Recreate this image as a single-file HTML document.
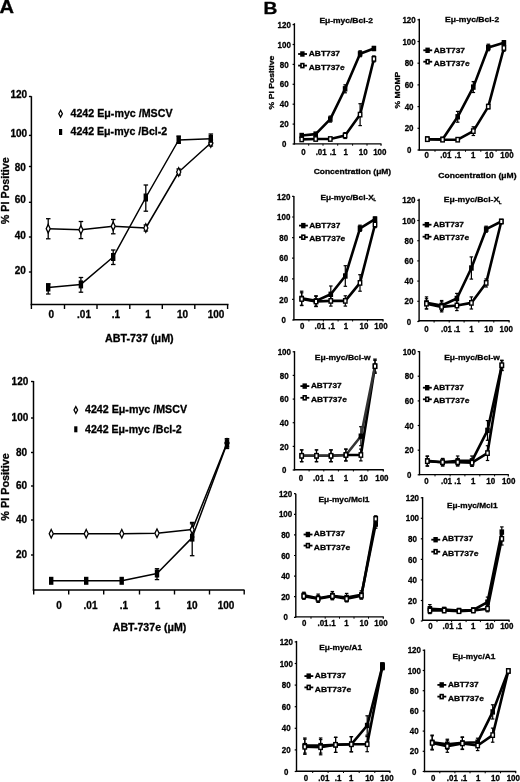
<!DOCTYPE html>
<html><head><meta charset="utf-8"><style>
html,body{margin:0;padding:0;background:#fff;width:520px;height:782px;overflow:hidden}
svg{display:block;will-change:transform}
text{font-family:"Liberation Sans",sans-serif;font-weight:bold;fill:#000;stroke:#000;stroke-width:0.3px}
</style></head><body>
<svg width="520" height="782" viewBox="0 0 520 782">
<rect width="520" height="782" fill="#fff"/>
<text transform="translate(-0.6,12.9) scale(1.13,1)" font-size="17.8">A</text>
<text transform="translate(263.5,13.8) scale(1.2,1)" font-size="16">B</text>
<line x1="31.4" y1="96.2" x2="31.4" y2="305.2" stroke="#000" stroke-width="1.5"/>
<line x1="30.7" y1="304.5" x2="228.5" y2="304.5" stroke="#000" stroke-width="1.5"/>
<line x1="31.4" y1="304.5" x2="31.4" y2="309.0" stroke="#000" stroke-width="1.4"/>
<line x1="64.5" y1="304.5" x2="64.5" y2="309.0" stroke="#000" stroke-width="1.4"/>
<line x1="97.0" y1="304.5" x2="97.0" y2="309.0" stroke="#000" stroke-width="1.4"/>
<line x1="129.8" y1="304.5" x2="129.8" y2="309.0" stroke="#000" stroke-width="1.4"/>
<line x1="162.3" y1="304.5" x2="162.3" y2="309.0" stroke="#000" stroke-width="1.4"/>
<line x1="194.8" y1="304.5" x2="194.8" y2="309.0" stroke="#000" stroke-width="1.4"/>
<line x1="227.6" y1="304.5" x2="227.6" y2="309.0" stroke="#000" stroke-width="1.4"/>
<line x1="28.9" y1="96.5" x2="31.4" y2="96.5" stroke="#000" stroke-width="1.4"/>
<line x1="28.9" y1="135.4" x2="31.4" y2="135.4" stroke="#000" stroke-width="1.4"/>
<line x1="28.9" y1="166.5" x2="31.4" y2="166.5" stroke="#000" stroke-width="1.4"/>
<line x1="28.9" y1="202.3" x2="31.4" y2="202.3" stroke="#000" stroke-width="1.4"/>
<line x1="28.9" y1="237.0" x2="31.4" y2="237.0" stroke="#000" stroke-width="1.4"/>
<line x1="28.9" y1="272.0" x2="31.4" y2="272.0" stroke="#000" stroke-width="1.4"/>
<text x="27.2" y="98.3" font-size="10" text-anchor="end">120</text>
<text x="27.2" y="136.5" font-size="10" text-anchor="end">100</text>
<text x="25.8" y="170.5" font-size="10" text-anchor="end">80</text>
<text x="25.8" y="203.2" font-size="10" text-anchor="end">60</text>
<text x="25.8" y="239.2" font-size="10" text-anchor="end">40</text>
<text x="25.8" y="274.2" font-size="10" text-anchor="end">20</text>
<text x="51.2" y="318.3" font-size="10" text-anchor="middle">0</text>
<text x="84.0" y="318.3" font-size="10" text-anchor="middle">.01</text>
<text x="116.0" y="318.3" font-size="10" text-anchor="middle">.1</text>
<text x="148.0" y="318.3" font-size="10" text-anchor="middle">1</text>
<text x="182.5" y="318.3" font-size="10" text-anchor="middle">10</text>
<text x="216.0" y="318.3" font-size="10" text-anchor="middle">100</text>
<polyline points="48.2,228.7 80.9,229.8 113.2,226.2 145.8,228.0 178.7,172.0 210.8,143.0" fill="none" stroke="#000" stroke-width="1.5" stroke-linejoin="round"/>
<polyline points="48.2,287.5 80.9,284.4 113.2,257.0 145.8,197.5 178.7,140.0 210.8,138.8" fill="none" stroke="#000" stroke-width="1.5" stroke-linejoin="round"/>
<line x1="48.2" y1="218.7" x2="48.2" y2="238.8" stroke="#000" stroke-width="1.3"/>
<line x1="46.0" y1="218.7" x2="50.5" y2="218.7" stroke="#000" stroke-width="1.3"/>
<line x1="46.0" y1="238.8" x2="50.5" y2="238.8" stroke="#000" stroke-width="1.3"/>
<line x1="80.9" y1="221.5" x2="80.9" y2="238.6" stroke="#000" stroke-width="1.3"/>
<line x1="78.7" y1="221.5" x2="83.2" y2="221.5" stroke="#000" stroke-width="1.3"/>
<line x1="78.7" y1="238.6" x2="83.2" y2="238.6" stroke="#000" stroke-width="1.3"/>
<line x1="113.2" y1="219.5" x2="113.2" y2="233.8" stroke="#000" stroke-width="1.3"/>
<line x1="111.0" y1="219.5" x2="115.5" y2="219.5" stroke="#000" stroke-width="1.3"/>
<line x1="111.0" y1="233.8" x2="115.5" y2="233.8" stroke="#000" stroke-width="1.3"/>
<line x1="145.8" y1="225.0" x2="145.8" y2="231.0" stroke="#000" stroke-width="1.3"/>
<line x1="143.6" y1="225.0" x2="148.1" y2="225.0" stroke="#000" stroke-width="1.3"/>
<line x1="143.6" y1="231.0" x2="148.1" y2="231.0" stroke="#000" stroke-width="1.3"/>
<line x1="178.7" y1="169.0" x2="178.7" y2="175.0" stroke="#000" stroke-width="1.3"/>
<line x1="176.4" y1="169.0" x2="180.9" y2="169.0" stroke="#000" stroke-width="1.3"/>
<line x1="176.4" y1="175.0" x2="180.9" y2="175.0" stroke="#000" stroke-width="1.3"/>
<line x1="210.8" y1="140.0" x2="210.8" y2="146.0" stroke="#000" stroke-width="1.3"/>
<line x1="208.6" y1="140.0" x2="213.1" y2="140.0" stroke="#000" stroke-width="1.3"/>
<line x1="208.6" y1="146.0" x2="213.1" y2="146.0" stroke="#000" stroke-width="1.3"/>
<line x1="48.2" y1="283.8" x2="48.2" y2="294.0" stroke="#000" stroke-width="1.3"/>
<line x1="46.0" y1="283.8" x2="50.5" y2="283.8" stroke="#000" stroke-width="1.3"/>
<line x1="46.0" y1="294.0" x2="50.5" y2="294.0" stroke="#000" stroke-width="1.3"/>
<line x1="80.9" y1="277.5" x2="80.9" y2="292.2" stroke="#000" stroke-width="1.3"/>
<line x1="78.7" y1="277.5" x2="83.2" y2="277.5" stroke="#000" stroke-width="1.3"/>
<line x1="78.7" y1="292.2" x2="83.2" y2="292.2" stroke="#000" stroke-width="1.3"/>
<line x1="113.2" y1="250.0" x2="113.2" y2="264.5" stroke="#000" stroke-width="1.3"/>
<line x1="111.0" y1="250.0" x2="115.5" y2="250.0" stroke="#000" stroke-width="1.3"/>
<line x1="111.0" y1="264.5" x2="115.5" y2="264.5" stroke="#000" stroke-width="1.3"/>
<line x1="145.8" y1="185.0" x2="145.8" y2="211.2" stroke="#000" stroke-width="1.3"/>
<line x1="143.6" y1="185.0" x2="148.1" y2="185.0" stroke="#000" stroke-width="1.3"/>
<line x1="143.6" y1="211.2" x2="148.1" y2="211.2" stroke="#000" stroke-width="1.3"/>
<line x1="178.7" y1="136.0" x2="178.7" y2="143.0" stroke="#000" stroke-width="1.3"/>
<line x1="176.4" y1="136.0" x2="180.9" y2="136.0" stroke="#000" stroke-width="1.3"/>
<line x1="176.4" y1="143.0" x2="180.9" y2="143.0" stroke="#000" stroke-width="1.3"/>
<line x1="210.8" y1="134.0" x2="210.8" y2="144.0" stroke="#000" stroke-width="1.3"/>
<line x1="208.6" y1="134.0" x2="213.1" y2="134.0" stroke="#000" stroke-width="1.3"/>
<line x1="208.6" y1="144.0" x2="213.1" y2="144.0" stroke="#000" stroke-width="1.3"/>
<polygon points="48.2,224.4 50.2,228.7 48.2,232.9 46.2,228.7" fill="#fff" stroke="#000" stroke-width="1.3"/>
<polygon points="80.9,225.6 83.0,229.8 80.9,234.1 78.9,229.8" fill="#fff" stroke="#000" stroke-width="1.3"/>
<polygon points="113.2,221.9 115.2,226.2 113.2,230.4 111.2,226.2" fill="#fff" stroke="#000" stroke-width="1.3"/>
<polygon points="145.8,223.8 147.9,228.0 145.8,232.2 143.8,228.0" fill="#fff" stroke="#000" stroke-width="1.3"/>
<polygon points="178.7,167.8 180.8,172.0 178.7,176.2 176.6,172.0" fill="#fff" stroke="#000" stroke-width="1.3"/>
<polygon points="210.8,138.8 212.9,143.0 210.8,147.2 208.8,143.0" fill="#fff" stroke="#000" stroke-width="1.3"/>
<rect x="46.0" y="283.5" width="4.4" height="8.0" fill="#000" stroke="none" stroke-width="0"/>
<rect x="78.7" y="280.4" width="4.4" height="8.0" fill="#000" stroke="none" stroke-width="0"/>
<rect x="111.0" y="253.0" width="4.4" height="8.0" fill="#000" stroke="none" stroke-width="0"/>
<rect x="143.6" y="193.5" width="4.4" height="8.0" fill="#000" stroke="none" stroke-width="0"/>
<rect x="176.5" y="136.0" width="4.4" height="8.0" fill="#000" stroke="none" stroke-width="0"/>
<rect x="208.6" y="134.8" width="4.4" height="8.0" fill="#000" stroke="none" stroke-width="0"/>
<polygon points="60.6,110.3 62.4,113.7 60.6,117.1 58.8,113.7" fill="#fff" stroke="#000" stroke-width="1.3"/>
<rect x="59.0" y="129.0" width="3.2" height="6.0" fill="#000" stroke="none" stroke-width="0"/>
<text x="70.5" y="117.0" font-size="10.5" text-anchor="start" textLength="102.0" lengthAdjust="spacingAndGlyphs">4242 Eμ-myc /MSCV</text>
<text x="70.5" y="135.3" font-size="10.5" text-anchor="start" textLength="96.7" lengthAdjust="spacingAndGlyphs">4242 Eμ-myc /Bcl-2</text>
<text x="105.0" y="342.1" font-size="10.5" text-anchor="start" textLength="68.7" lengthAdjust="spacingAndGlyphs">ABT-737 (μM)</text>
<text transform="translate(9.3,190.7) rotate(-90)" font-size="11" text-anchor="middle" textLength="67" lengthAdjust="spacingAndGlyphs">% PI Positive</text>
<line x1="33.5" y1="381.0" x2="33.5" y2="590.7" stroke="#000" stroke-width="1.5"/>
<line x1="32.8" y1="590.0" x2="244.5" y2="590.0" stroke="#000" stroke-width="1.5"/>
<line x1="33.7" y1="590.0" x2="33.7" y2="594.5" stroke="#000" stroke-width="1.4"/>
<line x1="68.7" y1="590.0" x2="68.7" y2="594.5" stroke="#000" stroke-width="1.4"/>
<line x1="103.7" y1="590.0" x2="103.7" y2="594.5" stroke="#000" stroke-width="1.4"/>
<line x1="139.5" y1="590.0" x2="139.5" y2="594.5" stroke="#000" stroke-width="1.4"/>
<line x1="174.5" y1="590.0" x2="174.5" y2="594.5" stroke="#000" stroke-width="1.4"/>
<line x1="209.5" y1="590.0" x2="209.5" y2="594.5" stroke="#000" stroke-width="1.4"/>
<line x1="244.2" y1="590.0" x2="244.2" y2="594.5" stroke="#000" stroke-width="1.4"/>
<line x1="31.0" y1="381.5" x2="33.5" y2="381.5" stroke="#000" stroke-width="1.4"/>
<line x1="31.0" y1="418.0" x2="33.5" y2="418.0" stroke="#000" stroke-width="1.4"/>
<line x1="31.0" y1="452.5" x2="33.5" y2="452.5" stroke="#000" stroke-width="1.4"/>
<line x1="31.0" y1="486.0" x2="33.5" y2="486.0" stroke="#000" stroke-width="1.4"/>
<line x1="31.0" y1="520.0" x2="33.5" y2="520.0" stroke="#000" stroke-width="1.4"/>
<line x1="31.0" y1="555.0" x2="33.5" y2="555.0" stroke="#000" stroke-width="1.4"/>
<text x="28.3" y="384.5" font-size="10" text-anchor="end">120</text>
<text x="28.3" y="421.0" font-size="10" text-anchor="end">100</text>
<text x="27.1" y="455.5" font-size="10" text-anchor="end">80</text>
<text x="27.1" y="489.0" font-size="10" text-anchor="end">60</text>
<text x="27.1" y="523.0" font-size="10" text-anchor="end">40</text>
<text x="27.1" y="558.0" font-size="10" text-anchor="end">20</text>
<text x="59.0" y="608.5" font-size="10" text-anchor="middle">0</text>
<text x="90.5" y="608.5" font-size="10" text-anchor="middle">.01</text>
<text x="124.0" y="608.5" font-size="10" text-anchor="middle">.1</text>
<text x="157.5" y="608.5" font-size="10" text-anchor="middle">1</text>
<text x="192.0" y="608.5" font-size="10" text-anchor="middle">10</text>
<text x="226.0" y="608.5" font-size="10" text-anchor="middle">100</text>
<polyline points="51.2,533.8 86.2,533.8 121.8,533.8 157.0,533.3 192.2,529.6 227.0,443.0" fill="none" stroke="#000" stroke-width="1.5" stroke-linejoin="round"/>
<polyline points="51.2,580.8 86.2,580.8 121.8,580.8 157.0,573.5 192.2,537.6 227.0,443.5" fill="none" stroke="#000" stroke-width="1.5" stroke-linejoin="round"/>
<line x1="192.2" y1="522.4" x2="192.2" y2="537.0" stroke="#000" stroke-width="1.3"/>
<line x1="189.9" y1="522.4" x2="194.4" y2="522.4" stroke="#000" stroke-width="1.3"/>
<line x1="189.9" y1="537.0" x2="194.4" y2="537.0" stroke="#000" stroke-width="1.3"/>
<line x1="227.0" y1="439.0" x2="227.0" y2="447.0" stroke="#000" stroke-width="1.3"/>
<line x1="224.8" y1="439.0" x2="229.2" y2="439.0" stroke="#000" stroke-width="1.3"/>
<line x1="224.8" y1="447.0" x2="229.2" y2="447.0" stroke="#000" stroke-width="1.3"/>
<line x1="157.0" y1="568.7" x2="157.0" y2="579.6" stroke="#000" stroke-width="1.3"/>
<line x1="154.8" y1="568.7" x2="159.2" y2="568.7" stroke="#000" stroke-width="1.3"/>
<line x1="154.8" y1="579.6" x2="159.2" y2="579.6" stroke="#000" stroke-width="1.3"/>
<line x1="192.2" y1="523.8" x2="192.2" y2="555.7" stroke="#000" stroke-width="1.3"/>
<line x1="189.9" y1="523.8" x2="194.4" y2="523.8" stroke="#000" stroke-width="1.3"/>
<line x1="189.9" y1="555.7" x2="194.4" y2="555.7" stroke="#000" stroke-width="1.3"/>
<line x1="227.0" y1="438.7" x2="227.0" y2="448.5" stroke="#000" stroke-width="1.3"/>
<line x1="224.8" y1="438.7" x2="229.2" y2="438.7" stroke="#000" stroke-width="1.3"/>
<line x1="224.8" y1="448.5" x2="229.2" y2="448.5" stroke="#000" stroke-width="1.3"/>
<polygon points="51.2,529.5 53.3,533.8 51.2,538.0 49.2,533.8" fill="#fff" stroke="#000" stroke-width="1.3"/>
<polygon points="86.2,529.5 88.3,533.8 86.2,538.0 84.2,533.8" fill="#fff" stroke="#000" stroke-width="1.3"/>
<polygon points="121.8,529.5 123.8,533.8 121.8,538.0 119.7,533.8" fill="#fff" stroke="#000" stroke-width="1.3"/>
<polygon points="157.0,529.0 159.1,533.3 157.0,537.5 154.9,533.3" fill="#fff" stroke="#000" stroke-width="1.3"/>
<polygon points="192.2,525.4 194.2,529.6 192.2,533.9 190.1,529.6" fill="#fff" stroke="#000" stroke-width="1.3"/>
<polygon points="227.0,438.8 229.1,443.0 227.0,447.2 224.9,443.0" fill="#fff" stroke="#000" stroke-width="1.3"/>
<rect x="49.0" y="576.8" width="4.4" height="8.0" fill="#000" stroke="none" stroke-width="0"/>
<rect x="84.0" y="576.8" width="4.4" height="8.0" fill="#000" stroke="none" stroke-width="0"/>
<rect x="119.5" y="576.8" width="4.4" height="8.0" fill="#000" stroke="none" stroke-width="0"/>
<rect x="154.8" y="569.5" width="4.4" height="8.0" fill="#000" stroke="none" stroke-width="0"/>
<rect x="190.0" y="533.6" width="4.4" height="8.0" fill="#000" stroke="none" stroke-width="0"/>
<rect x="224.8" y="439.5" width="4.4" height="8.0" fill="#000" stroke="none" stroke-width="0"/>
<polygon points="75.8,406.6 77.6,410.0 75.8,413.4 74.0,410.0" fill="#fff" stroke="#000" stroke-width="1.3"/>
<rect x="74.2" y="426.3" width="3.2" height="6.0" fill="#000" stroke="none" stroke-width="0"/>
<text x="85.0" y="413.3" font-size="10.5" text-anchor="start" textLength="102.0" lengthAdjust="spacingAndGlyphs">4242 Eμ-myc /MSCV</text>
<text x="85.0" y="432.6" font-size="10.5" text-anchor="start" textLength="96.7" lengthAdjust="spacingAndGlyphs">4242 Eμ-myc /Bcl-2</text>
<text x="112.8" y="631.4" font-size="10.5" text-anchor="start" textLength="73.5" lengthAdjust="spacingAndGlyphs">ABT-737e (μM)</text>
<text transform="translate(9.3,487.0) rotate(-90)" font-size="11" text-anchor="middle" textLength="67.5" lengthAdjust="spacingAndGlyphs">% PI Positive</text>
<line x1="294.4" y1="23.2" x2="294.4" y2="144.5" stroke="#000" stroke-width="1.4"/>
<line x1="293.8" y1="143.9" x2="381.5" y2="143.9" stroke="#000" stroke-width="1.4"/>
<line x1="381.0" y1="143.9" x2="381.0" y2="145.7" stroke="#000" stroke-width="1.2"/>
<line x1="292.6" y1="144.0" x2="294.4" y2="144.0" stroke="#000" stroke-width="1.2"/>
<text x="284.2" y="147.1" font-size="8.7" text-anchor="middle" textLength="4.4" lengthAdjust="spacingAndGlyphs">0</text>
<line x1="292.6" y1="124.1" x2="294.4" y2="124.1" stroke="#000" stroke-width="1.2"/>
<text x="284.2" y="127.2" font-size="8.7" text-anchor="middle" textLength="8.9" lengthAdjust="spacingAndGlyphs">20</text>
<line x1="292.6" y1="104.2" x2="294.4" y2="104.2" stroke="#000" stroke-width="1.2"/>
<text x="284.2" y="107.3" font-size="8.7" text-anchor="middle" textLength="8.9" lengthAdjust="spacingAndGlyphs">40</text>
<line x1="292.6" y1="84.3" x2="294.4" y2="84.3" stroke="#000" stroke-width="1.2"/>
<text x="284.2" y="87.4" font-size="8.7" text-anchor="middle" textLength="8.9" lengthAdjust="spacingAndGlyphs">60</text>
<line x1="292.6" y1="64.4" x2="294.4" y2="64.4" stroke="#000" stroke-width="1.2"/>
<text x="284.2" y="67.5" font-size="8.7" text-anchor="middle" textLength="8.9" lengthAdjust="spacingAndGlyphs">80</text>
<line x1="292.6" y1="44.5" x2="294.4" y2="44.5" stroke="#000" stroke-width="1.2"/>
<text x="284.2" y="47.6" font-size="8.7" text-anchor="middle" textLength="13.3" lengthAdjust="spacingAndGlyphs">100</text>
<line x1="292.6" y1="24.6" x2="294.4" y2="24.6" stroke="#000" stroke-width="1.2"/>
<text x="284.2" y="27.7" font-size="8.7" text-anchor="middle" textLength="13.3" lengthAdjust="spacingAndGlyphs">120</text>
<line x1="308.7" y1="143.9" x2="308.7" y2="145.7" stroke="#000" stroke-width="1.0"/>
<line x1="323.0" y1="143.9" x2="323.0" y2="145.7" stroke="#000" stroke-width="1.0"/>
<line x1="337.7" y1="143.9" x2="337.7" y2="145.7" stroke="#000" stroke-width="1.0"/>
<line x1="352.6" y1="143.9" x2="352.6" y2="145.7" stroke="#000" stroke-width="1.0"/>
<line x1="367.0" y1="143.9" x2="367.0" y2="145.7" stroke="#000" stroke-width="1.0"/>
<text x="303.4" y="155.1" font-size="8.7" text-anchor="middle" textLength="4.4" lengthAdjust="spacingAndGlyphs">0</text>
<text x="321.2" y="155.1" font-size="8.7" text-anchor="middle" textLength="11.1" lengthAdjust="spacingAndGlyphs">.01</text>
<text x="333.0" y="155.1" font-size="8.7" text-anchor="middle" textLength="6.7" lengthAdjust="spacingAndGlyphs">.1</text>
<text x="345.8" y="155.1" font-size="8.7" text-anchor="middle" textLength="4.4" lengthAdjust="spacingAndGlyphs">1</text>
<text x="363.3" y="155.1" font-size="8.7" text-anchor="middle" textLength="8.9" lengthAdjust="spacingAndGlyphs">10</text>
<text x="379.8" y="155.1" font-size="8.7" text-anchor="middle" textLength="13.3" lengthAdjust="spacingAndGlyphs">100</text>
<text x="319.4" y="22.6" font-size="8" text-anchor="start" textLength="53.7" lengthAdjust="spacingAndGlyphs">Eμ-myc/Bcl-2</text>
<line x1="330.3" y1="116.1" x2="330.3" y2="122.1" stroke="#000" stroke-width="1.2"/>
<line x1="328.6" y1="116.1" x2="332.1" y2="116.1" stroke="#000" stroke-width="1.2"/>
<line x1="328.6" y1="122.1" x2="332.1" y2="122.1" stroke="#000" stroke-width="1.2"/>
<line x1="345.1" y1="84.8" x2="345.1" y2="92.8" stroke="#000" stroke-width="1.2"/>
<line x1="343.4" y1="84.8" x2="346.9" y2="84.8" stroke="#000" stroke-width="1.2"/>
<line x1="343.4" y1="92.8" x2="346.9" y2="92.8" stroke="#000" stroke-width="1.2"/>
<line x1="360.1" y1="50.8" x2="360.1" y2="56.7" stroke="#000" stroke-width="1.2"/>
<line x1="358.4" y1="50.8" x2="361.9" y2="50.8" stroke="#000" stroke-width="1.2"/>
<line x1="358.4" y1="56.7" x2="361.9" y2="56.7" stroke="#000" stroke-width="1.2"/>
<line x1="373.9" y1="46.5" x2="373.9" y2="50.5" stroke="#000" stroke-width="1.2"/>
<line x1="372.1" y1="46.5" x2="375.6" y2="46.5" stroke="#000" stroke-width="1.2"/>
<line x1="372.1" y1="50.5" x2="375.6" y2="50.5" stroke="#000" stroke-width="1.2"/>
<line x1="345.1" y1="132.6" x2="345.1" y2="138.5" stroke="#000" stroke-width="1.2"/>
<line x1="343.4" y1="132.6" x2="346.9" y2="132.6" stroke="#000" stroke-width="1.2"/>
<line x1="343.4" y1="138.5" x2="346.9" y2="138.5" stroke="#000" stroke-width="1.2"/>
<line x1="360.1" y1="103.7" x2="360.1" y2="125.6" stroke="#000" stroke-width="1.2"/>
<line x1="358.4" y1="103.7" x2="361.9" y2="103.7" stroke="#000" stroke-width="1.2"/>
<line x1="358.4" y1="125.6" x2="361.9" y2="125.6" stroke="#000" stroke-width="1.2"/>
<line x1="373.9" y1="55.9" x2="373.9" y2="61.9" stroke="#000" stroke-width="1.2"/>
<line x1="372.1" y1="55.9" x2="375.6" y2="55.9" stroke="#000" stroke-width="1.2"/>
<line x1="372.1" y1="61.9" x2="375.6" y2="61.9" stroke="#000" stroke-width="1.2"/>
<polyline points="301.7,139.4 315.7,139.0 330.3,139.0 345.1,135.5 360.1,114.6 373.9,58.9" fill="none" stroke="#000" stroke-width="2.6" stroke-linejoin="round"/>
<polyline points="301.7,135.5 315.7,134.1 330.3,119.1 345.1,88.8 360.1,53.8 373.9,48.5" fill="none" stroke="#000" stroke-width="2.6" stroke-linejoin="round"/>
<rect x="299.4" y="132.8" width="4.6" height="5.4" fill="#000" stroke="none" stroke-width="0"/>
<rect x="313.4" y="131.4" width="4.6" height="5.4" fill="#000" stroke="none" stroke-width="0"/>
<rect x="328.0" y="116.4" width="4.6" height="5.4" fill="#000" stroke="none" stroke-width="0"/>
<rect x="342.8" y="86.1" width="4.6" height="5.4" fill="#000" stroke="none" stroke-width="0"/>
<rect x="357.8" y="51.1" width="4.6" height="5.4" fill="#000" stroke="none" stroke-width="0"/>
<rect x="371.6" y="45.8" width="4.6" height="5.4" fill="#000" stroke="none" stroke-width="0"/>
<rect x="300.0" y="137.2" width="3.4" height="4.4" fill="#fff" stroke="#000" stroke-width="1.4"/>
<rect x="314.0" y="136.8" width="3.4" height="4.4" fill="#fff" stroke="#000" stroke-width="1.4"/>
<rect x="328.6" y="136.8" width="3.4" height="4.4" fill="#fff" stroke="#000" stroke-width="1.4"/>
<rect x="343.4" y="133.3" width="3.4" height="4.4" fill="#fff" stroke="#000" stroke-width="1.4"/>
<rect x="358.4" y="112.4" width="3.4" height="4.4" fill="#fff" stroke="#000" stroke-width="1.4"/>
<rect x="372.2" y="56.7" width="3.4" height="4.4" fill="#fff" stroke="#000" stroke-width="1.4"/>
<line x1="298.1" y1="54.0" x2="307.0" y2="54.0" stroke="#000" stroke-width="1.8"/>
<rect x="300.2" y="51.3" width="4.4" height="5.4" fill="#000" stroke="none" stroke-width="0"/>
<line x1="298.1" y1="65.6" x2="307.0" y2="65.6" stroke="#000" stroke-width="1.8"/>
<rect x="301.0" y="63.6" width="2.8" height="4.0" fill="#fff" stroke="#000" stroke-width="1.6"/>
<text x="308.8" y="56.1" font-size="8" text-anchor="start" textLength="31.2" lengthAdjust="spacingAndGlyphs">ABT737</text>
<text x="308.8" y="69.5" font-size="8" text-anchor="start" textLength="35.9" lengthAdjust="spacingAndGlyphs">ABT737e</text>
<line x1="419.3" y1="18.7" x2="419.3" y2="150.6" stroke="#000" stroke-width="1.4"/>
<line x1="418.7" y1="150.0" x2="511.6" y2="150.0" stroke="#000" stroke-width="1.4"/>
<line x1="511.1" y1="150.0" x2="511.1" y2="151.8" stroke="#000" stroke-width="1.2"/>
<line x1="417.5" y1="150.0" x2="419.3" y2="150.0" stroke="#000" stroke-width="1.2"/>
<text x="409.1" y="153.1" font-size="8.7" text-anchor="middle" textLength="4.4" lengthAdjust="spacingAndGlyphs">0</text>
<line x1="417.5" y1="128.3" x2="419.3" y2="128.3" stroke="#000" stroke-width="1.2"/>
<text x="409.1" y="131.4" font-size="8.7" text-anchor="middle" textLength="8.9" lengthAdjust="spacingAndGlyphs">20</text>
<line x1="417.5" y1="106.6" x2="419.3" y2="106.6" stroke="#000" stroke-width="1.2"/>
<text x="409.1" y="109.7" font-size="8.7" text-anchor="middle" textLength="8.9" lengthAdjust="spacingAndGlyphs">40</text>
<line x1="417.5" y1="84.9" x2="419.3" y2="84.9" stroke="#000" stroke-width="1.2"/>
<text x="409.1" y="88.0" font-size="8.7" text-anchor="middle" textLength="8.9" lengthAdjust="spacingAndGlyphs">60</text>
<line x1="417.5" y1="63.2" x2="419.3" y2="63.2" stroke="#000" stroke-width="1.2"/>
<text x="409.1" y="66.3" font-size="8.7" text-anchor="middle" textLength="8.9" lengthAdjust="spacingAndGlyphs">80</text>
<line x1="417.5" y1="41.5" x2="419.3" y2="41.5" stroke="#000" stroke-width="1.2"/>
<text x="409.1" y="44.6" font-size="8.7" text-anchor="middle" textLength="13.3" lengthAdjust="spacingAndGlyphs">100</text>
<line x1="417.5" y1="19.8" x2="419.3" y2="19.8" stroke="#000" stroke-width="1.2"/>
<text x="409.1" y="22.9" font-size="8.7" text-anchor="middle" textLength="13.3" lengthAdjust="spacingAndGlyphs">120</text>
<line x1="435.0" y1="150.0" x2="435.0" y2="151.8" stroke="#000" stroke-width="1.0"/>
<line x1="450.1" y1="150.0" x2="450.1" y2="151.8" stroke="#000" stroke-width="1.0"/>
<line x1="465.5" y1="150.0" x2="465.5" y2="151.8" stroke="#000" stroke-width="1.0"/>
<line x1="480.8" y1="150.0" x2="480.8" y2="151.8" stroke="#000" stroke-width="1.0"/>
<line x1="496.1" y1="150.0" x2="496.1" y2="151.8" stroke="#000" stroke-width="1.0"/>
<text x="426.7" y="158.4" font-size="8.7" text-anchor="middle" textLength="4.4" lengthAdjust="spacingAndGlyphs">0</text>
<text x="445.9" y="158.4" font-size="8.7" text-anchor="middle" textLength="11.1" lengthAdjust="spacingAndGlyphs">.01</text>
<text x="457.8" y="158.4" font-size="8.7" text-anchor="middle" textLength="6.7" lengthAdjust="spacingAndGlyphs">.1</text>
<text x="473.2" y="158.4" font-size="8.7" text-anchor="middle" textLength="4.4" lengthAdjust="spacingAndGlyphs">1</text>
<text x="489.3" y="158.4" font-size="8.7" text-anchor="middle" textLength="8.9" lengthAdjust="spacingAndGlyphs">10</text>
<text x="507.0" y="158.4" font-size="8.7" text-anchor="middle" textLength="13.3" lengthAdjust="spacingAndGlyphs">100</text>
<text x="445.0" y="21.7" font-size="8" text-anchor="start" textLength="54.2" lengthAdjust="spacingAndGlyphs">Eμ-myc/Bcl-2</text>
<line x1="457.7" y1="111.4" x2="457.7" y2="122.2" stroke="#000" stroke-width="1.2"/>
<line x1="455.9" y1="111.4" x2="459.4" y2="111.4" stroke="#000" stroke-width="1.2"/>
<line x1="455.9" y1="122.2" x2="459.4" y2="122.2" stroke="#000" stroke-width="1.2"/>
<line x1="473.3" y1="81.6" x2="473.3" y2="92.5" stroke="#000" stroke-width="1.2"/>
<line x1="471.6" y1="81.6" x2="475.1" y2="81.6" stroke="#000" stroke-width="1.2"/>
<line x1="471.6" y1="92.5" x2="475.1" y2="92.5" stroke="#000" stroke-width="1.2"/>
<line x1="488.3" y1="44.2" x2="488.3" y2="50.7" stroke="#000" stroke-width="1.2"/>
<line x1="486.6" y1="44.2" x2="490.1" y2="44.2" stroke="#000" stroke-width="1.2"/>
<line x1="486.6" y1="50.7" x2="490.1" y2="50.7" stroke="#000" stroke-width="1.2"/>
<line x1="503.9" y1="40.6" x2="503.9" y2="45.0" stroke="#000" stroke-width="1.2"/>
<line x1="502.1" y1="40.6" x2="505.6" y2="40.6" stroke="#000" stroke-width="1.2"/>
<line x1="502.1" y1="45.0" x2="505.6" y2="45.0" stroke="#000" stroke-width="1.2"/>
<line x1="427.3" y1="137.0" x2="427.3" y2="141.3" stroke="#000" stroke-width="1.2"/>
<line x1="425.6" y1="137.0" x2="429.1" y2="137.0" stroke="#000" stroke-width="1.2"/>
<line x1="425.6" y1="141.3" x2="429.1" y2="141.3" stroke="#000" stroke-width="1.2"/>
<line x1="473.3" y1="126.8" x2="473.3" y2="135.5" stroke="#000" stroke-width="1.2"/>
<line x1="471.6" y1="126.8" x2="475.1" y2="126.8" stroke="#000" stroke-width="1.2"/>
<line x1="471.6" y1="135.5" x2="475.1" y2="135.5" stroke="#000" stroke-width="1.2"/>
<line x1="488.3" y1="104.4" x2="488.3" y2="108.8" stroke="#000" stroke-width="1.2"/>
<line x1="486.6" y1="104.4" x2="490.1" y2="104.4" stroke="#000" stroke-width="1.2"/>
<line x1="486.6" y1="108.8" x2="490.1" y2="108.8" stroke="#000" stroke-width="1.2"/>
<line x1="503.9" y1="44.8" x2="503.9" y2="51.3" stroke="#000" stroke-width="1.2"/>
<line x1="502.1" y1="44.8" x2="505.6" y2="44.8" stroke="#000" stroke-width="1.2"/>
<line x1="502.1" y1="51.3" x2="505.6" y2="51.3" stroke="#000" stroke-width="1.2"/>
<polyline points="427.3,139.2 442.6,139.7 457.7,139.7 473.3,131.1 488.3,106.6 503.9,48.0" fill="none" stroke="#000" stroke-width="2.6" stroke-linejoin="round"/>
<polyline points="427.3,139.2 442.6,139.2 457.7,116.8 473.3,87.1 488.3,47.5 503.9,42.8" fill="none" stroke="#000" stroke-width="2.6" stroke-linejoin="round"/>
<rect x="425.0" y="136.5" width="4.6" height="5.4" fill="#000" stroke="none" stroke-width="0"/>
<rect x="440.3" y="136.5" width="4.6" height="5.4" fill="#000" stroke="none" stroke-width="0"/>
<rect x="455.4" y="114.1" width="4.6" height="5.4" fill="#000" stroke="none" stroke-width="0"/>
<rect x="471.0" y="84.4" width="4.6" height="5.4" fill="#000" stroke="none" stroke-width="0"/>
<rect x="486.0" y="44.8" width="4.6" height="5.4" fill="#000" stroke="none" stroke-width="0"/>
<rect x="501.6" y="40.1" width="4.6" height="5.4" fill="#000" stroke="none" stroke-width="0"/>
<rect x="425.6" y="137.0" width="3.4" height="4.4" fill="#fff" stroke="#000" stroke-width="1.4"/>
<rect x="440.9" y="137.5" width="3.4" height="4.4" fill="#fff" stroke="#000" stroke-width="1.4"/>
<rect x="456.0" y="137.5" width="3.4" height="4.4" fill="#fff" stroke="#000" stroke-width="1.4"/>
<rect x="471.6" y="128.9" width="3.4" height="4.4" fill="#fff" stroke="#000" stroke-width="1.4"/>
<rect x="486.6" y="104.4" width="3.4" height="4.4" fill="#fff" stroke="#000" stroke-width="1.4"/>
<rect x="502.2" y="45.8" width="3.4" height="4.4" fill="#fff" stroke="#000" stroke-width="1.4"/>
<line x1="423.3" y1="50.3" x2="432.2" y2="50.3" stroke="#000" stroke-width="1.8"/>
<rect x="425.4" y="47.6" width="4.4" height="5.4" fill="#000" stroke="none" stroke-width="0"/>
<line x1="423.3" y1="61.7" x2="432.2" y2="61.7" stroke="#000" stroke-width="1.8"/>
<rect x="426.2" y="59.7" width="2.8" height="4.0" fill="#fff" stroke="#000" stroke-width="1.6"/>
<text x="433.8" y="52.5" font-size="8" text-anchor="start" textLength="31.2" lengthAdjust="spacingAndGlyphs">ABT737</text>
<text x="433.8" y="65.9" font-size="8" text-anchor="start" textLength="35.9" lengthAdjust="spacingAndGlyphs">ABT737e</text>
<line x1="293.9" y1="196.0" x2="293.9" y2="320.3" stroke="#000" stroke-width="1.4"/>
<line x1="293.3" y1="319.7" x2="383.5" y2="319.7" stroke="#000" stroke-width="1.4"/>
<line x1="383.0" y1="319.7" x2="383.0" y2="321.5" stroke="#000" stroke-width="1.2"/>
<line x1="292.1" y1="320.0" x2="293.9" y2="320.0" stroke="#000" stroke-width="1.2"/>
<text x="283.7" y="323.1" font-size="8.7" text-anchor="middle" textLength="4.4" lengthAdjust="spacingAndGlyphs">0</text>
<line x1="292.1" y1="299.4" x2="293.9" y2="299.4" stroke="#000" stroke-width="1.2"/>
<text x="283.7" y="302.5" font-size="8.7" text-anchor="middle" textLength="8.9" lengthAdjust="spacingAndGlyphs">20</text>
<line x1="292.1" y1="278.8" x2="293.9" y2="278.8" stroke="#000" stroke-width="1.2"/>
<text x="283.7" y="281.9" font-size="8.7" text-anchor="middle" textLength="8.9" lengthAdjust="spacingAndGlyphs">40</text>
<line x1="292.1" y1="258.2" x2="293.9" y2="258.2" stroke="#000" stroke-width="1.2"/>
<text x="283.7" y="261.3" font-size="8.7" text-anchor="middle" textLength="8.9" lengthAdjust="spacingAndGlyphs">60</text>
<line x1="292.1" y1="237.6" x2="293.9" y2="237.6" stroke="#000" stroke-width="1.2"/>
<text x="283.7" y="240.7" font-size="8.7" text-anchor="middle" textLength="8.9" lengthAdjust="spacingAndGlyphs">80</text>
<line x1="292.1" y1="217.0" x2="293.9" y2="217.0" stroke="#000" stroke-width="1.2"/>
<text x="283.7" y="220.1" font-size="8.7" text-anchor="middle" textLength="13.3" lengthAdjust="spacingAndGlyphs">100</text>
<line x1="292.1" y1="196.4" x2="293.9" y2="196.4" stroke="#000" stroke-width="1.2"/>
<text x="283.7" y="199.5" font-size="8.7" text-anchor="middle" textLength="13.3" lengthAdjust="spacingAndGlyphs">120</text>
<line x1="308.9" y1="319.7" x2="308.9" y2="321.5" stroke="#000" stroke-width="1.0"/>
<line x1="323.4" y1="319.7" x2="323.4" y2="321.5" stroke="#000" stroke-width="1.0"/>
<line x1="338.1" y1="319.7" x2="338.1" y2="321.5" stroke="#000" stroke-width="1.0"/>
<line x1="352.6" y1="319.7" x2="352.6" y2="321.5" stroke="#000" stroke-width="1.0"/>
<line x1="367.5" y1="319.7" x2="367.5" y2="321.5" stroke="#000" stroke-width="1.0"/>
<text x="302.2" y="328.7" font-size="8.7" text-anchor="middle" textLength="4.4" lengthAdjust="spacingAndGlyphs">0</text>
<text x="320.0" y="328.7" font-size="8.7" text-anchor="middle" textLength="11.1" lengthAdjust="spacingAndGlyphs">.01</text>
<text x="331.6" y="328.7" font-size="8.7" text-anchor="middle" textLength="6.7" lengthAdjust="spacingAndGlyphs">.1</text>
<text x="345.9" y="328.7" font-size="8.7" text-anchor="middle" textLength="4.4" lengthAdjust="spacingAndGlyphs">1</text>
<text x="364.0" y="328.7" font-size="8.7" text-anchor="middle" textLength="8.9" lengthAdjust="spacingAndGlyphs">10</text>
<text x="381.0" y="328.7" font-size="8.7" text-anchor="middle" textLength="13.3" lengthAdjust="spacingAndGlyphs">100</text>
<text x="320.4" y="199.8" font-size="8" text-anchor="start" textLength="53.4" lengthAdjust="spacingAndGlyphs">Eμ-myc/Bcl-X</text>
<text x="373.6" y="201.3" font-size="4.2" text-anchor="start">L</text>
<line x1="301.7" y1="291.2" x2="301.7" y2="305.6" stroke="#000" stroke-width="1.2"/>
<line x1="299.9" y1="291.2" x2="303.4" y2="291.2" stroke="#000" stroke-width="1.2"/>
<line x1="299.9" y1="305.6" x2="303.4" y2="305.6" stroke="#000" stroke-width="1.2"/>
<line x1="316.0" y1="295.8" x2="316.0" y2="306.1" stroke="#000" stroke-width="1.2"/>
<line x1="314.2" y1="295.8" x2="317.8" y2="295.8" stroke="#000" stroke-width="1.2"/>
<line x1="314.2" y1="306.1" x2="317.8" y2="306.1" stroke="#000" stroke-width="1.2"/>
<line x1="330.8" y1="286.0" x2="330.8" y2="302.5" stroke="#000" stroke-width="1.2"/>
<line x1="329.1" y1="286.0" x2="332.6" y2="286.0" stroke="#000" stroke-width="1.2"/>
<line x1="329.1" y1="302.5" x2="332.6" y2="302.5" stroke="#000" stroke-width="1.2"/>
<line x1="345.3" y1="265.7" x2="345.3" y2="286.3" stroke="#000" stroke-width="1.2"/>
<line x1="343.6" y1="265.7" x2="347.1" y2="265.7" stroke="#000" stroke-width="1.2"/>
<line x1="343.6" y1="286.3" x2="347.1" y2="286.3" stroke="#000" stroke-width="1.2"/>
<line x1="360.0" y1="225.2" x2="360.0" y2="231.4" stroke="#000" stroke-width="1.2"/>
<line x1="358.2" y1="225.2" x2="361.8" y2="225.2" stroke="#000" stroke-width="1.2"/>
<line x1="358.2" y1="231.4" x2="361.8" y2="231.4" stroke="#000" stroke-width="1.2"/>
<line x1="375.0" y1="217.0" x2="375.0" y2="221.1" stroke="#000" stroke-width="1.2"/>
<line x1="373.2" y1="217.0" x2="376.8" y2="217.0" stroke="#000" stroke-width="1.2"/>
<line x1="373.2" y1="221.1" x2="376.8" y2="221.1" stroke="#000" stroke-width="1.2"/>
<line x1="301.7" y1="292.8" x2="301.7" y2="305.2" stroke="#000" stroke-width="1.2"/>
<line x1="299.9" y1="292.8" x2="303.4" y2="292.8" stroke="#000" stroke-width="1.2"/>
<line x1="299.9" y1="305.2" x2="303.4" y2="305.2" stroke="#000" stroke-width="1.2"/>
<line x1="316.0" y1="296.3" x2="316.0" y2="306.6" stroke="#000" stroke-width="1.2"/>
<line x1="314.2" y1="296.3" x2="317.8" y2="296.3" stroke="#000" stroke-width="1.2"/>
<line x1="314.2" y1="306.6" x2="317.8" y2="306.6" stroke="#000" stroke-width="1.2"/>
<line x1="330.8" y1="295.8" x2="330.8" y2="306.1" stroke="#000" stroke-width="1.2"/>
<line x1="329.1" y1="295.8" x2="332.6" y2="295.8" stroke="#000" stroke-width="1.2"/>
<line x1="329.1" y1="306.1" x2="332.6" y2="306.1" stroke="#000" stroke-width="1.2"/>
<line x1="345.3" y1="295.8" x2="345.3" y2="306.1" stroke="#000" stroke-width="1.2"/>
<line x1="343.6" y1="295.8" x2="347.1" y2="295.8" stroke="#000" stroke-width="1.2"/>
<line x1="343.6" y1="306.1" x2="347.1" y2="306.1" stroke="#000" stroke-width="1.2"/>
<line x1="360.0" y1="274.7" x2="360.0" y2="291.2" stroke="#000" stroke-width="1.2"/>
<line x1="358.2" y1="274.7" x2="361.8" y2="274.7" stroke="#000" stroke-width="1.2"/>
<line x1="358.2" y1="291.2" x2="361.8" y2="291.2" stroke="#000" stroke-width="1.2"/>
<line x1="375.0" y1="221.4" x2="375.0" y2="227.6" stroke="#000" stroke-width="1.2"/>
<line x1="373.2" y1="221.4" x2="376.8" y2="221.4" stroke="#000" stroke-width="1.2"/>
<line x1="373.2" y1="227.6" x2="376.8" y2="227.6" stroke="#000" stroke-width="1.2"/>
<polyline points="301.7,299.0 316.0,301.5 330.8,300.9 345.3,300.9 360.0,282.9 375.0,224.5" fill="none" stroke="#000" stroke-width="2.6" stroke-linejoin="round"/>
<polyline points="301.7,298.4 316.0,300.9 330.8,294.2 345.3,276.0 360.0,228.3 375.0,219.1" fill="none" stroke="#000" stroke-width="2.6" stroke-linejoin="round"/>
<rect x="299.4" y="295.7" width="4.6" height="5.4" fill="#000" stroke="none" stroke-width="0"/>
<rect x="313.7" y="298.2" width="4.6" height="5.4" fill="#000" stroke="none" stroke-width="0"/>
<rect x="328.5" y="291.6" width="4.6" height="5.4" fill="#000" stroke="none" stroke-width="0"/>
<rect x="343.0" y="273.3" width="4.6" height="5.4" fill="#000" stroke="none" stroke-width="0"/>
<rect x="357.7" y="225.6" width="4.6" height="5.4" fill="#000" stroke="none" stroke-width="0"/>
<rect x="372.7" y="216.4" width="4.6" height="5.4" fill="#000" stroke="none" stroke-width="0"/>
<rect x="300.0" y="296.8" width="3.4" height="4.4" fill="#fff" stroke="#000" stroke-width="1.4"/>
<rect x="314.3" y="299.3" width="3.4" height="4.4" fill="#fff" stroke="#000" stroke-width="1.4"/>
<rect x="329.1" y="298.7" width="3.4" height="4.4" fill="#fff" stroke="#000" stroke-width="1.4"/>
<rect x="343.6" y="298.7" width="3.4" height="4.4" fill="#fff" stroke="#000" stroke-width="1.4"/>
<rect x="358.3" y="280.7" width="3.4" height="4.4" fill="#fff" stroke="#000" stroke-width="1.4"/>
<rect x="373.3" y="222.3" width="3.4" height="4.4" fill="#fff" stroke="#000" stroke-width="1.4"/>
<line x1="299.0" y1="225.6" x2="307.9" y2="225.6" stroke="#000" stroke-width="1.8"/>
<rect x="301.1" y="222.9" width="4.4" height="5.4" fill="#000" stroke="none" stroke-width="0"/>
<line x1="299.0" y1="237.2" x2="307.9" y2="237.2" stroke="#000" stroke-width="1.8"/>
<rect x="301.9" y="235.2" width="2.8" height="4.0" fill="#fff" stroke="#000" stroke-width="1.6"/>
<text x="309.3" y="227.7" font-size="8" text-anchor="start" textLength="31.0" lengthAdjust="spacingAndGlyphs">ABT737</text>
<text x="309.3" y="241.2" font-size="8" text-anchor="start" textLength="36.0" lengthAdjust="spacingAndGlyphs">ABT737e</text>
<line x1="419.1" y1="198.8" x2="419.1" y2="321.4" stroke="#000" stroke-width="1.4"/>
<line x1="418.5" y1="320.8" x2="509.6" y2="320.8" stroke="#000" stroke-width="1.4"/>
<line x1="509.1" y1="320.8" x2="509.1" y2="322.6" stroke="#000" stroke-width="1.2"/>
<line x1="417.3" y1="321.5" x2="419.1" y2="321.5" stroke="#000" stroke-width="1.2"/>
<text x="408.9" y="324.6" font-size="8.7" text-anchor="middle" textLength="4.4" lengthAdjust="spacingAndGlyphs">0</text>
<line x1="417.3" y1="301.3" x2="419.1" y2="301.3" stroke="#000" stroke-width="1.2"/>
<text x="408.9" y="304.4" font-size="8.7" text-anchor="middle" textLength="8.9" lengthAdjust="spacingAndGlyphs">20</text>
<line x1="417.3" y1="281.1" x2="419.1" y2="281.1" stroke="#000" stroke-width="1.2"/>
<text x="408.9" y="284.2" font-size="8.7" text-anchor="middle" textLength="8.9" lengthAdjust="spacingAndGlyphs">40</text>
<line x1="417.3" y1="260.9" x2="419.1" y2="260.9" stroke="#000" stroke-width="1.2"/>
<text x="408.9" y="264.0" font-size="8.7" text-anchor="middle" textLength="8.9" lengthAdjust="spacingAndGlyphs">60</text>
<line x1="417.3" y1="240.7" x2="419.1" y2="240.7" stroke="#000" stroke-width="1.2"/>
<text x="408.9" y="243.8" font-size="8.7" text-anchor="middle" textLength="8.9" lengthAdjust="spacingAndGlyphs">80</text>
<line x1="417.3" y1="220.5" x2="419.1" y2="220.5" stroke="#000" stroke-width="1.2"/>
<text x="408.9" y="223.6" font-size="8.7" text-anchor="middle" textLength="13.3" lengthAdjust="spacingAndGlyphs">100</text>
<line x1="417.3" y1="200.3" x2="419.1" y2="200.3" stroke="#000" stroke-width="1.2"/>
<text x="408.9" y="203.4" font-size="8.7" text-anchor="middle" textLength="13.3" lengthAdjust="spacingAndGlyphs">120</text>
<line x1="434.1" y1="320.8" x2="434.1" y2="322.6" stroke="#000" stroke-width="1.0"/>
<line x1="449.2" y1="320.8" x2="449.2" y2="322.6" stroke="#000" stroke-width="1.0"/>
<line x1="464.1" y1="320.8" x2="464.1" y2="322.6" stroke="#000" stroke-width="1.0"/>
<line x1="478.8" y1="320.8" x2="478.8" y2="322.6" stroke="#000" stroke-width="1.0"/>
<line x1="493.8" y1="320.8" x2="493.8" y2="322.6" stroke="#000" stroke-width="1.0"/>
<text x="426.5" y="331.6" font-size="8.7" text-anchor="middle" textLength="4.4" lengthAdjust="spacingAndGlyphs">0</text>
<text x="446.5" y="331.6" font-size="8.7" text-anchor="middle" textLength="11.1" lengthAdjust="spacingAndGlyphs">.01</text>
<text x="457.0" y="331.6" font-size="8.7" text-anchor="middle" textLength="6.7" lengthAdjust="spacingAndGlyphs">.1</text>
<text x="471.4" y="331.6" font-size="8.7" text-anchor="middle" textLength="4.4" lengthAdjust="spacingAndGlyphs">1</text>
<text x="488.7" y="331.6" font-size="8.7" text-anchor="middle" textLength="8.9" lengthAdjust="spacingAndGlyphs">10</text>
<text x="506.2" y="331.6" font-size="8.7" text-anchor="middle" textLength="13.3" lengthAdjust="spacingAndGlyphs">100</text>
<text x="443.8" y="202.0" font-size="8" text-anchor="start" textLength="55.3" lengthAdjust="spacingAndGlyphs">Eμ-myc/Bcl-X</text>
<text x="498.9" y="203.5" font-size="4.2" text-anchor="start">L</text>
<line x1="426.5" y1="296.9" x2="426.5" y2="309.0" stroke="#000" stroke-width="1.2"/>
<line x1="424.8" y1="296.9" x2="428.2" y2="296.9" stroke="#000" stroke-width="1.2"/>
<line x1="424.8" y1="309.0" x2="428.2" y2="309.0" stroke="#000" stroke-width="1.2"/>
<line x1="441.6" y1="300.5" x2="441.6" y2="310.6" stroke="#000" stroke-width="1.2"/>
<line x1="439.9" y1="300.5" x2="443.4" y2="300.5" stroke="#000" stroke-width="1.2"/>
<line x1="439.9" y1="310.6" x2="443.4" y2="310.6" stroke="#000" stroke-width="1.2"/>
<line x1="456.9" y1="293.4" x2="456.9" y2="303.5" stroke="#000" stroke-width="1.2"/>
<line x1="455.1" y1="293.4" x2="458.6" y2="293.4" stroke="#000" stroke-width="1.2"/>
<line x1="455.1" y1="303.5" x2="458.6" y2="303.5" stroke="#000" stroke-width="1.2"/>
<line x1="471.4" y1="256.9" x2="471.4" y2="279.1" stroke="#000" stroke-width="1.2"/>
<line x1="469.6" y1="256.9" x2="473.1" y2="256.9" stroke="#000" stroke-width="1.2"/>
<line x1="469.6" y1="279.1" x2="473.1" y2="279.1" stroke="#000" stroke-width="1.2"/>
<line x1="486.2" y1="226.2" x2="486.2" y2="232.2" stroke="#000" stroke-width="1.2"/>
<line x1="484.4" y1="226.2" x2="487.9" y2="226.2" stroke="#000" stroke-width="1.2"/>
<line x1="484.4" y1="232.2" x2="487.9" y2="232.2" stroke="#000" stroke-width="1.2"/>
<line x1="501.3" y1="219.5" x2="501.3" y2="223.5" stroke="#000" stroke-width="1.2"/>
<line x1="499.6" y1="219.5" x2="503.1" y2="219.5" stroke="#000" stroke-width="1.2"/>
<line x1="499.6" y1="223.5" x2="503.1" y2="223.5" stroke="#000" stroke-width="1.2"/>
<line x1="426.5" y1="298.7" x2="426.5" y2="308.8" stroke="#000" stroke-width="1.2"/>
<line x1="424.8" y1="298.7" x2="428.2" y2="298.7" stroke="#000" stroke-width="1.2"/>
<line x1="424.8" y1="308.8" x2="428.2" y2="308.8" stroke="#000" stroke-width="1.2"/>
<line x1="441.6" y1="301.8" x2="441.6" y2="311.9" stroke="#000" stroke-width="1.2"/>
<line x1="439.9" y1="301.8" x2="443.4" y2="301.8" stroke="#000" stroke-width="1.2"/>
<line x1="439.9" y1="311.9" x2="443.4" y2="311.9" stroke="#000" stroke-width="1.2"/>
<line x1="456.9" y1="300.5" x2="456.9" y2="310.6" stroke="#000" stroke-width="1.2"/>
<line x1="455.1" y1="300.5" x2="458.6" y2="300.5" stroke="#000" stroke-width="1.2"/>
<line x1="455.1" y1="310.6" x2="458.6" y2="310.6" stroke="#000" stroke-width="1.2"/>
<line x1="471.4" y1="296.9" x2="471.4" y2="309.0" stroke="#000" stroke-width="1.2"/>
<line x1="469.6" y1="296.9" x2="473.1" y2="296.9" stroke="#000" stroke-width="1.2"/>
<line x1="469.6" y1="309.0" x2="473.1" y2="309.0" stroke="#000" stroke-width="1.2"/>
<line x1="486.2" y1="278.9" x2="486.2" y2="287.0" stroke="#000" stroke-width="1.2"/>
<line x1="484.4" y1="278.9" x2="487.9" y2="278.9" stroke="#000" stroke-width="1.2"/>
<line x1="484.4" y1="287.0" x2="487.9" y2="287.0" stroke="#000" stroke-width="1.2"/>
<line x1="501.3" y1="219.5" x2="501.3" y2="223.5" stroke="#000" stroke-width="1.2"/>
<line x1="499.6" y1="219.5" x2="503.1" y2="219.5" stroke="#000" stroke-width="1.2"/>
<line x1="499.6" y1="223.5" x2="503.1" y2="223.5" stroke="#000" stroke-width="1.2"/>
<polyline points="426.5,303.7 441.6,306.9 456.9,305.5 471.4,302.9 486.2,282.9 501.3,221.5" fill="none" stroke="#000" stroke-width="2.6" stroke-linejoin="round"/>
<polyline points="426.5,302.9 441.6,305.5 456.9,298.5 471.4,268.0 486.2,229.2 501.3,221.5" fill="none" stroke="#000" stroke-width="2.6" stroke-linejoin="round"/>
<rect x="424.2" y="300.2" width="4.6" height="5.4" fill="#000" stroke="none" stroke-width="0"/>
<rect x="439.3" y="302.8" width="4.6" height="5.4" fill="#000" stroke="none" stroke-width="0"/>
<rect x="454.6" y="295.8" width="4.6" height="5.4" fill="#000" stroke="none" stroke-width="0"/>
<rect x="469.1" y="265.3" width="4.6" height="5.4" fill="#000" stroke="none" stroke-width="0"/>
<rect x="483.9" y="226.5" width="4.6" height="5.4" fill="#000" stroke="none" stroke-width="0"/>
<rect x="499.0" y="218.8" width="4.6" height="5.4" fill="#000" stroke="none" stroke-width="0"/>
<rect x="424.8" y="301.5" width="3.4" height="4.4" fill="#fff" stroke="#000" stroke-width="1.4"/>
<rect x="439.9" y="304.7" width="3.4" height="4.4" fill="#fff" stroke="#000" stroke-width="1.4"/>
<rect x="455.2" y="303.3" width="3.4" height="4.4" fill="#fff" stroke="#000" stroke-width="1.4"/>
<rect x="469.7" y="300.7" width="3.4" height="4.4" fill="#fff" stroke="#000" stroke-width="1.4"/>
<rect x="484.5" y="280.7" width="3.4" height="4.4" fill="#fff" stroke="#000" stroke-width="1.4"/>
<rect x="499.6" y="219.3" width="3.4" height="4.4" fill="#fff" stroke="#000" stroke-width="1.4"/>
<line x1="422.6" y1="224.7" x2="431.5" y2="224.7" stroke="#000" stroke-width="1.8"/>
<rect x="424.7" y="222.0" width="4.4" height="5.4" fill="#000" stroke="none" stroke-width="0"/>
<line x1="422.6" y1="236.7" x2="431.5" y2="236.7" stroke="#000" stroke-width="1.8"/>
<rect x="425.5" y="234.7" width="2.8" height="4.0" fill="#fff" stroke="#000" stroke-width="1.6"/>
<text x="433.2" y="226.6" font-size="8" text-anchor="start" textLength="30.7" lengthAdjust="spacingAndGlyphs">ABT737</text>
<text x="433.2" y="240.4" font-size="8" text-anchor="start" textLength="36.0" lengthAdjust="spacingAndGlyphs">ABT737e</text>
<line x1="294.5" y1="351.1" x2="294.5" y2="470.3" stroke="#000" stroke-width="1.4"/>
<line x1="293.9" y1="469.7" x2="383.8" y2="469.7" stroke="#000" stroke-width="1.4"/>
<line x1="383.3" y1="469.7" x2="383.3" y2="471.5" stroke="#000" stroke-width="1.2"/>
<line x1="292.7" y1="470.0" x2="294.5" y2="470.0" stroke="#000" stroke-width="1.2"/>
<text x="284.3" y="473.1" font-size="8.7" text-anchor="middle" textLength="4.4" lengthAdjust="spacingAndGlyphs">0</text>
<line x1="292.7" y1="446.4" x2="294.5" y2="446.4" stroke="#000" stroke-width="1.2"/>
<text x="284.3" y="449.5" font-size="8.7" text-anchor="middle" textLength="8.9" lengthAdjust="spacingAndGlyphs">20</text>
<line x1="292.7" y1="422.7" x2="294.5" y2="422.7" stroke="#000" stroke-width="1.2"/>
<text x="284.3" y="425.8" font-size="8.7" text-anchor="middle" textLength="8.9" lengthAdjust="spacingAndGlyphs">40</text>
<line x1="292.7" y1="399.1" x2="294.5" y2="399.1" stroke="#000" stroke-width="1.2"/>
<text x="284.3" y="402.2" font-size="8.7" text-anchor="middle" textLength="8.9" lengthAdjust="spacingAndGlyphs">60</text>
<line x1="292.7" y1="375.4" x2="294.5" y2="375.4" stroke="#000" stroke-width="1.2"/>
<text x="284.3" y="378.5" font-size="8.7" text-anchor="middle" textLength="8.9" lengthAdjust="spacingAndGlyphs">80</text>
<line x1="292.7" y1="351.8" x2="294.5" y2="351.8" stroke="#000" stroke-width="1.2"/>
<text x="284.3" y="354.9" font-size="8.7" text-anchor="middle" textLength="13.3" lengthAdjust="spacingAndGlyphs">100</text>
<line x1="309.1" y1="469.7" x2="309.1" y2="471.5" stroke="#000" stroke-width="1.0"/>
<line x1="323.8" y1="469.7" x2="323.8" y2="471.5" stroke="#000" stroke-width="1.0"/>
<line x1="338.4" y1="469.7" x2="338.4" y2="471.5" stroke="#000" stroke-width="1.0"/>
<line x1="353.4" y1="469.7" x2="353.4" y2="471.5" stroke="#000" stroke-width="1.0"/>
<line x1="367.9" y1="469.7" x2="367.9" y2="471.5" stroke="#000" stroke-width="1.0"/>
<text x="301.0" y="480.6" font-size="8.7" text-anchor="middle" textLength="4.4" lengthAdjust="spacingAndGlyphs">0</text>
<text x="318.6" y="480.6" font-size="8.7" text-anchor="middle" textLength="11.1" lengthAdjust="spacingAndGlyphs">.01</text>
<text x="331.0" y="480.6" font-size="8.7" text-anchor="middle" textLength="6.7" lengthAdjust="spacingAndGlyphs">.1</text>
<text x="345.9" y="480.6" font-size="8.7" text-anchor="middle" textLength="4.4" lengthAdjust="spacingAndGlyphs">1</text>
<text x="363.6" y="480.6" font-size="8.7" text-anchor="middle" textLength="8.9" lengthAdjust="spacingAndGlyphs">10</text>
<text x="381.9" y="480.6" font-size="8.7" text-anchor="middle" textLength="13.3" lengthAdjust="spacingAndGlyphs">100</text>
<text x="314.8" y="359.7" font-size="8" text-anchor="start" textLength="55.9" lengthAdjust="spacingAndGlyphs">Eμ-myc/Bcl-w</text>
<line x1="301.7" y1="449.9" x2="301.7" y2="461.7" stroke="#000" stroke-width="1.2"/>
<line x1="299.9" y1="449.9" x2="303.4" y2="449.9" stroke="#000" stroke-width="1.2"/>
<line x1="299.9" y1="461.7" x2="303.4" y2="461.7" stroke="#000" stroke-width="1.2"/>
<line x1="316.5" y1="449.9" x2="316.5" y2="461.7" stroke="#000" stroke-width="1.2"/>
<line x1="314.8" y1="449.9" x2="318.2" y2="449.9" stroke="#000" stroke-width="1.2"/>
<line x1="314.8" y1="461.7" x2="318.2" y2="461.7" stroke="#000" stroke-width="1.2"/>
<line x1="331.0" y1="449.9" x2="331.0" y2="461.7" stroke="#000" stroke-width="1.2"/>
<line x1="329.2" y1="449.9" x2="332.8" y2="449.9" stroke="#000" stroke-width="1.2"/>
<line x1="329.2" y1="461.7" x2="332.8" y2="461.7" stroke="#000" stroke-width="1.2"/>
<line x1="345.9" y1="449.1" x2="345.9" y2="460.9" stroke="#000" stroke-width="1.2"/>
<line x1="344.1" y1="449.1" x2="347.6" y2="449.1" stroke="#000" stroke-width="1.2"/>
<line x1="344.1" y1="460.9" x2="347.6" y2="460.9" stroke="#000" stroke-width="1.2"/>
<line x1="360.9" y1="426.7" x2="360.9" y2="445.7" stroke="#000" stroke-width="1.2"/>
<line x1="359.1" y1="426.7" x2="362.6" y2="426.7" stroke="#000" stroke-width="1.2"/>
<line x1="359.1" y1="445.7" x2="362.6" y2="445.7" stroke="#000" stroke-width="1.2"/>
<line x1="375.0" y1="359.1" x2="375.0" y2="373.3" stroke="#000" stroke-width="1.2"/>
<line x1="373.2" y1="359.1" x2="376.8" y2="359.1" stroke="#000" stroke-width="1.2"/>
<line x1="373.2" y1="373.3" x2="376.8" y2="373.3" stroke="#000" stroke-width="1.2"/>
<line x1="301.7" y1="449.9" x2="301.7" y2="461.7" stroke="#000" stroke-width="1.2"/>
<line x1="299.9" y1="449.9" x2="303.4" y2="449.9" stroke="#000" stroke-width="1.2"/>
<line x1="299.9" y1="461.7" x2="303.4" y2="461.7" stroke="#000" stroke-width="1.2"/>
<line x1="316.5" y1="449.9" x2="316.5" y2="461.7" stroke="#000" stroke-width="1.2"/>
<line x1="314.8" y1="449.9" x2="318.2" y2="449.9" stroke="#000" stroke-width="1.2"/>
<line x1="314.8" y1="461.7" x2="318.2" y2="461.7" stroke="#000" stroke-width="1.2"/>
<line x1="331.0" y1="449.9" x2="331.0" y2="461.7" stroke="#000" stroke-width="1.2"/>
<line x1="329.2" y1="449.9" x2="332.8" y2="449.9" stroke="#000" stroke-width="1.2"/>
<line x1="329.2" y1="461.7" x2="332.8" y2="461.7" stroke="#000" stroke-width="1.2"/>
<line x1="345.9" y1="449.1" x2="345.9" y2="460.9" stroke="#000" stroke-width="1.2"/>
<line x1="344.1" y1="449.1" x2="347.6" y2="449.1" stroke="#000" stroke-width="1.2"/>
<line x1="344.1" y1="460.9" x2="347.6" y2="460.9" stroke="#000" stroke-width="1.2"/>
<line x1="360.9" y1="449.1" x2="360.9" y2="460.9" stroke="#000" stroke-width="1.2"/>
<line x1="359.1" y1="449.1" x2="362.6" y2="449.1" stroke="#000" stroke-width="1.2"/>
<line x1="359.1" y1="460.9" x2="362.6" y2="460.9" stroke="#000" stroke-width="1.2"/>
<line x1="375.0" y1="360.3" x2="375.0" y2="372.1" stroke="#000" stroke-width="1.2"/>
<line x1="373.2" y1="360.3" x2="376.8" y2="360.3" stroke="#000" stroke-width="1.2"/>
<line x1="373.2" y1="372.1" x2="376.8" y2="372.1" stroke="#000" stroke-width="1.2"/>
<polyline points="301.7,455.8 316.5,455.8 331.0,455.8 345.9,455.0 360.9,455.0 375.0,366.2" fill="none" stroke="#000" stroke-width="2.6" stroke-linejoin="round"/>
<polyline points="301.7,455.8 316.5,455.8 331.0,455.8 345.9,455.0 360.9,436.2 375.0,366.2" fill="none" stroke="#333" stroke-width="2.6" stroke-linejoin="round"/>
<rect x="299.4" y="453.1" width="4.6" height="5.4" fill="#000" stroke="none" stroke-width="0"/>
<rect x="314.2" y="453.1" width="4.6" height="5.4" fill="#000" stroke="none" stroke-width="0"/>
<rect x="328.7" y="453.1" width="4.6" height="5.4" fill="#000" stroke="none" stroke-width="0"/>
<rect x="343.6" y="452.3" width="4.6" height="5.4" fill="#000" stroke="none" stroke-width="0"/>
<rect x="358.6" y="433.5" width="4.6" height="5.4" fill="#000" stroke="none" stroke-width="0"/>
<rect x="372.7" y="363.5" width="4.6" height="5.4" fill="#000" stroke="none" stroke-width="0"/>
<rect x="300.0" y="453.6" width="3.4" height="4.4" fill="#fff" stroke="#000" stroke-width="1.4"/>
<rect x="314.8" y="453.6" width="3.4" height="4.4" fill="#fff" stroke="#000" stroke-width="1.4"/>
<rect x="329.3" y="453.6" width="3.4" height="4.4" fill="#fff" stroke="#000" stroke-width="1.4"/>
<rect x="344.2" y="452.8" width="3.4" height="4.4" fill="#fff" stroke="#000" stroke-width="1.4"/>
<rect x="359.2" y="452.8" width="3.4" height="4.4" fill="#fff" stroke="#000" stroke-width="1.4"/>
<rect x="373.3" y="364.0" width="3.4" height="4.4" fill="#fff" stroke="#000" stroke-width="1.4"/>
<line x1="300.4" y1="386.1" x2="309.3" y2="386.1" stroke="#000" stroke-width="1.8"/>
<rect x="302.5" y="383.4" width="4.4" height="5.4" fill="#000" stroke="none" stroke-width="0"/>
<line x1="300.4" y1="397.8" x2="309.3" y2="397.8" stroke="#000" stroke-width="1.8"/>
<rect x="303.3" y="395.8" width="2.8" height="4.0" fill="#fff" stroke="#000" stroke-width="1.6"/>
<text x="310.9" y="387.9" font-size="8" text-anchor="start" textLength="30.7" lengthAdjust="spacingAndGlyphs">ABT737</text>
<text x="310.9" y="402.0" font-size="8" text-anchor="start" textLength="36.0" lengthAdjust="spacingAndGlyphs">ABT737e</text>
<line x1="419.5" y1="351.1" x2="419.5" y2="475.2" stroke="#000" stroke-width="1.4"/>
<line x1="418.9" y1="474.6" x2="508.8" y2="474.6" stroke="#000" stroke-width="1.4"/>
<line x1="508.3" y1="474.6" x2="508.3" y2="476.4" stroke="#000" stroke-width="1.2"/>
<line x1="417.7" y1="474.8" x2="419.5" y2="474.8" stroke="#000" stroke-width="1.2"/>
<text x="409.3" y="477.9" font-size="8.7" text-anchor="middle" textLength="4.4" lengthAdjust="spacingAndGlyphs">0</text>
<line x1="417.7" y1="450.2" x2="419.5" y2="450.2" stroke="#000" stroke-width="1.2"/>
<text x="409.3" y="453.3" font-size="8.7" text-anchor="middle" textLength="8.9" lengthAdjust="spacingAndGlyphs">20</text>
<line x1="417.7" y1="425.5" x2="419.5" y2="425.5" stroke="#000" stroke-width="1.2"/>
<text x="409.3" y="428.6" font-size="8.7" text-anchor="middle" textLength="8.9" lengthAdjust="spacingAndGlyphs">40</text>
<line x1="417.7" y1="400.9" x2="419.5" y2="400.9" stroke="#000" stroke-width="1.2"/>
<text x="409.3" y="404.0" font-size="8.7" text-anchor="middle" textLength="8.9" lengthAdjust="spacingAndGlyphs">60</text>
<line x1="417.7" y1="376.2" x2="419.5" y2="376.2" stroke="#000" stroke-width="1.2"/>
<text x="409.3" y="379.3" font-size="8.7" text-anchor="middle" textLength="8.9" lengthAdjust="spacingAndGlyphs">80</text>
<line x1="417.7" y1="351.6" x2="419.5" y2="351.6" stroke="#000" stroke-width="1.2"/>
<text x="409.3" y="354.7" font-size="8.7" text-anchor="middle" textLength="13.3" lengthAdjust="spacingAndGlyphs">100</text>
<line x1="435.0" y1="474.6" x2="435.0" y2="476.4" stroke="#000" stroke-width="1.0"/>
<line x1="450.1" y1="474.6" x2="450.1" y2="476.4" stroke="#000" stroke-width="1.0"/>
<line x1="464.9" y1="474.6" x2="464.9" y2="476.4" stroke="#000" stroke-width="1.0"/>
<line x1="479.8" y1="474.6" x2="479.8" y2="476.4" stroke="#000" stroke-width="1.0"/>
<line x1="494.6" y1="474.6" x2="494.6" y2="476.4" stroke="#000" stroke-width="1.0"/>
<text x="426.5" y="483.9" font-size="8.7" text-anchor="middle" textLength="4.4" lengthAdjust="spacingAndGlyphs">0</text>
<text x="446.5" y="483.9" font-size="8.7" text-anchor="middle" textLength="11.1" lengthAdjust="spacingAndGlyphs">.01</text>
<text x="457.7" y="483.9" font-size="8.7" text-anchor="middle" textLength="6.7" lengthAdjust="spacingAndGlyphs">.1</text>
<text x="473.3" y="483.9" font-size="8.7" text-anchor="middle" textLength="4.4" lengthAdjust="spacingAndGlyphs">1</text>
<text x="490.8" y="483.9" font-size="8.7" text-anchor="middle" textLength="8.9" lengthAdjust="spacingAndGlyphs">10</text>
<text x="508.7" y="483.9" font-size="8.7" text-anchor="middle" textLength="13.3" lengthAdjust="spacingAndGlyphs">100</text>
<text x="444.2" y="359.7" font-size="8" text-anchor="start" textLength="55.8" lengthAdjust="spacingAndGlyphs">Eμ-myc/Bcl-w</text>
<line x1="427.3" y1="456.0" x2="427.3" y2="465.8" stroke="#000" stroke-width="1.2"/>
<line x1="425.6" y1="456.0" x2="429.1" y2="456.0" stroke="#000" stroke-width="1.2"/>
<line x1="425.6" y1="465.8" x2="429.1" y2="465.8" stroke="#000" stroke-width="1.2"/>
<line x1="442.6" y1="458.5" x2="442.6" y2="465.9" stroke="#000" stroke-width="1.2"/>
<line x1="440.9" y1="458.5" x2="444.4" y2="458.5" stroke="#000" stroke-width="1.2"/>
<line x1="440.9" y1="465.9" x2="444.4" y2="465.9" stroke="#000" stroke-width="1.2"/>
<line x1="457.7" y1="456.0" x2="457.7" y2="465.8" stroke="#000" stroke-width="1.2"/>
<line x1="455.9" y1="456.0" x2="459.4" y2="456.0" stroke="#000" stroke-width="1.2"/>
<line x1="455.9" y1="465.8" x2="459.4" y2="465.8" stroke="#000" stroke-width="1.2"/>
<line x1="472.0" y1="456.0" x2="472.0" y2="465.8" stroke="#000" stroke-width="1.2"/>
<line x1="470.2" y1="456.0" x2="473.8" y2="456.0" stroke="#000" stroke-width="1.2"/>
<line x1="470.2" y1="465.8" x2="473.8" y2="465.8" stroke="#000" stroke-width="1.2"/>
<line x1="487.5" y1="420.6" x2="487.5" y2="440.3" stroke="#000" stroke-width="1.2"/>
<line x1="485.8" y1="420.6" x2="489.2" y2="420.6" stroke="#000" stroke-width="1.2"/>
<line x1="485.8" y1="440.3" x2="489.2" y2="440.3" stroke="#000" stroke-width="1.2"/>
<line x1="501.8" y1="360.7" x2="501.8" y2="370.6" stroke="#000" stroke-width="1.2"/>
<line x1="500.1" y1="360.7" x2="503.6" y2="360.7" stroke="#000" stroke-width="1.2"/>
<line x1="500.1" y1="370.6" x2="503.6" y2="370.6" stroke="#000" stroke-width="1.2"/>
<line x1="427.3" y1="456.3" x2="427.3" y2="466.2" stroke="#000" stroke-width="1.2"/>
<line x1="425.6" y1="456.3" x2="429.1" y2="456.3" stroke="#000" stroke-width="1.2"/>
<line x1="425.6" y1="466.2" x2="429.1" y2="466.2" stroke="#000" stroke-width="1.2"/>
<line x1="442.6" y1="458.5" x2="442.6" y2="465.9" stroke="#000" stroke-width="1.2"/>
<line x1="440.9" y1="458.5" x2="444.4" y2="458.5" stroke="#000" stroke-width="1.2"/>
<line x1="440.9" y1="465.9" x2="444.4" y2="465.9" stroke="#000" stroke-width="1.2"/>
<line x1="457.7" y1="458.5" x2="457.7" y2="465.9" stroke="#000" stroke-width="1.2"/>
<line x1="455.9" y1="458.5" x2="459.4" y2="458.5" stroke="#000" stroke-width="1.2"/>
<line x1="455.9" y1="465.9" x2="459.4" y2="465.9" stroke="#000" stroke-width="1.2"/>
<line x1="472.0" y1="459.0" x2="472.0" y2="466.4" stroke="#000" stroke-width="1.2"/>
<line x1="470.2" y1="459.0" x2="473.8" y2="459.0" stroke="#000" stroke-width="1.2"/>
<line x1="470.2" y1="466.4" x2="473.8" y2="466.4" stroke="#000" stroke-width="1.2"/>
<line x1="487.5" y1="445.7" x2="487.5" y2="460.5" stroke="#000" stroke-width="1.2"/>
<line x1="485.8" y1="445.7" x2="489.2" y2="445.7" stroke="#000" stroke-width="1.2"/>
<line x1="485.8" y1="460.5" x2="489.2" y2="460.5" stroke="#000" stroke-width="1.2"/>
<line x1="501.8" y1="360.2" x2="501.8" y2="370.1" stroke="#000" stroke-width="1.2"/>
<line x1="500.1" y1="360.2" x2="503.6" y2="360.2" stroke="#000" stroke-width="1.2"/>
<line x1="500.1" y1="370.1" x2="503.6" y2="370.1" stroke="#000" stroke-width="1.2"/>
<polyline points="427.3,461.2 442.6,462.2 457.7,462.2 472.0,462.7 487.5,453.1 501.8,365.2" fill="none" stroke="#000" stroke-width="2.6" stroke-linejoin="round"/>
<polyline points="427.3,460.9 442.6,462.2 457.7,460.9 472.0,460.9 487.5,430.4 501.8,365.6" fill="none" stroke="#000" stroke-width="2.6" stroke-linejoin="round"/>
<rect x="425.0" y="458.2" width="4.6" height="5.4" fill="#000" stroke="none" stroke-width="0"/>
<rect x="440.3" y="459.5" width="4.6" height="5.4" fill="#000" stroke="none" stroke-width="0"/>
<rect x="455.4" y="458.2" width="4.6" height="5.4" fill="#000" stroke="none" stroke-width="0"/>
<rect x="469.7" y="458.2" width="4.6" height="5.4" fill="#000" stroke="none" stroke-width="0"/>
<rect x="485.2" y="427.7" width="4.6" height="5.4" fill="#000" stroke="none" stroke-width="0"/>
<rect x="499.5" y="362.9" width="4.6" height="5.4" fill="#000" stroke="none" stroke-width="0"/>
<rect x="425.6" y="459.0" width="3.4" height="4.4" fill="#fff" stroke="#000" stroke-width="1.4"/>
<rect x="440.9" y="460.0" width="3.4" height="4.4" fill="#fff" stroke="#000" stroke-width="1.4"/>
<rect x="456.0" y="460.0" width="3.4" height="4.4" fill="#fff" stroke="#000" stroke-width="1.4"/>
<rect x="470.3" y="460.5" width="3.4" height="4.4" fill="#fff" stroke="#000" stroke-width="1.4"/>
<rect x="485.8" y="450.9" width="3.4" height="4.4" fill="#fff" stroke="#000" stroke-width="1.4"/>
<rect x="500.1" y="363.0" width="3.4" height="4.4" fill="#fff" stroke="#000" stroke-width="1.4"/>
<line x1="422.9" y1="387.7" x2="431.8" y2="387.7" stroke="#000" stroke-width="1.8"/>
<rect x="425.0" y="385.0" width="4.4" height="5.4" fill="#000" stroke="none" stroke-width="0"/>
<line x1="422.9" y1="399.3" x2="431.8" y2="399.3" stroke="#000" stroke-width="1.8"/>
<rect x="425.8" y="397.3" width="2.8" height="4.0" fill="#fff" stroke="#000" stroke-width="1.6"/>
<text x="433.2" y="389.5" font-size="8" text-anchor="start" textLength="30.7" lengthAdjust="spacingAndGlyphs">ABT737</text>
<text x="433.2" y="403.4" font-size="8" text-anchor="start" textLength="36.3" lengthAdjust="spacingAndGlyphs">ABT737e</text>
<line x1="295.8" y1="493.7" x2="295.8" y2="617.5" stroke="#000" stroke-width="1.4"/>
<line x1="295.2" y1="616.9" x2="383.8" y2="616.9" stroke="#000" stroke-width="1.4"/>
<line x1="383.3" y1="616.9" x2="383.3" y2="618.7" stroke="#000" stroke-width="1.2"/>
<line x1="294.0" y1="617.3" x2="295.8" y2="617.3" stroke="#000" stroke-width="1.2"/>
<text x="285.6" y="620.4" font-size="8.7" text-anchor="middle" textLength="4.4" lengthAdjust="spacingAndGlyphs">0</text>
<line x1="294.0" y1="596.7" x2="295.8" y2="596.7" stroke="#000" stroke-width="1.2"/>
<text x="285.6" y="599.8" font-size="8.7" text-anchor="middle" textLength="8.9" lengthAdjust="spacingAndGlyphs">20</text>
<line x1="294.0" y1="576.1" x2="295.8" y2="576.1" stroke="#000" stroke-width="1.2"/>
<text x="285.6" y="579.2" font-size="8.7" text-anchor="middle" textLength="8.9" lengthAdjust="spacingAndGlyphs">40</text>
<line x1="294.0" y1="555.5" x2="295.8" y2="555.5" stroke="#000" stroke-width="1.2"/>
<text x="285.6" y="558.6" font-size="8.7" text-anchor="middle" textLength="8.9" lengthAdjust="spacingAndGlyphs">60</text>
<line x1="294.0" y1="534.9" x2="295.8" y2="534.9" stroke="#000" stroke-width="1.2"/>
<text x="285.6" y="538.0" font-size="8.7" text-anchor="middle" textLength="8.9" lengthAdjust="spacingAndGlyphs">80</text>
<line x1="294.0" y1="514.3" x2="295.8" y2="514.3" stroke="#000" stroke-width="1.2"/>
<text x="285.6" y="517.4" font-size="8.7" text-anchor="middle" textLength="13.3" lengthAdjust="spacingAndGlyphs">100</text>
<line x1="294.0" y1="493.7" x2="295.8" y2="493.7" stroke="#000" stroke-width="1.2"/>
<text x="285.6" y="496.8" font-size="8.7" text-anchor="middle" textLength="13.3" lengthAdjust="spacingAndGlyphs">120</text>
<line x1="311.0" y1="616.9" x2="311.0" y2="618.7" stroke="#000" stroke-width="1.0"/>
<line x1="325.2" y1="616.9" x2="325.2" y2="618.7" stroke="#000" stroke-width="1.0"/>
<line x1="339.5" y1="616.9" x2="339.5" y2="618.7" stroke="#000" stroke-width="1.0"/>
<line x1="354.0" y1="616.9" x2="354.0" y2="618.7" stroke="#000" stroke-width="1.0"/>
<line x1="368.5" y1="616.9" x2="368.5" y2="618.7" stroke="#000" stroke-width="1.0"/>
<text x="304.3" y="626.2" font-size="8.7" text-anchor="middle" textLength="4.4" lengthAdjust="spacingAndGlyphs">0</text>
<text x="323.0" y="626.2" font-size="8.7" text-anchor="middle" textLength="11.1" lengthAdjust="spacingAndGlyphs">.01</text>
<text x="332.4" y="626.2" font-size="8.7" text-anchor="middle" textLength="6.7" lengthAdjust="spacingAndGlyphs">.1</text>
<text x="346.4" y="626.2" font-size="8.7" text-anchor="middle" textLength="4.4" lengthAdjust="spacingAndGlyphs">1</text>
<text x="364.0" y="626.2" font-size="8.7" text-anchor="middle" textLength="8.9" lengthAdjust="spacingAndGlyphs">10</text>
<text x="381.0" y="626.2" font-size="8.7" text-anchor="middle" textLength="13.3" lengthAdjust="spacingAndGlyphs">100</text>
<text x="318.5" y="502.2" font-size="8" text-anchor="start" textLength="50.9" lengthAdjust="spacingAndGlyphs">Eμ-myc/Mcl1</text>
<line x1="303.8" y1="592.2" x2="303.8" y2="598.3" stroke="#000" stroke-width="1.2"/>
<line x1="302.1" y1="592.2" x2="305.6" y2="592.2" stroke="#000" stroke-width="1.2"/>
<line x1="302.1" y1="598.3" x2="305.6" y2="598.3" stroke="#000" stroke-width="1.2"/>
<line x1="318.1" y1="594.1" x2="318.1" y2="602.4" stroke="#000" stroke-width="1.2"/>
<line x1="316.4" y1="594.1" x2="319.9" y2="594.1" stroke="#000" stroke-width="1.2"/>
<line x1="316.4" y1="602.4" x2="319.9" y2="602.4" stroke="#000" stroke-width="1.2"/>
<line x1="332.4" y1="591.5" x2="332.4" y2="599.8" stroke="#000" stroke-width="1.2"/>
<line x1="330.6" y1="591.5" x2="334.1" y2="591.5" stroke="#000" stroke-width="1.2"/>
<line x1="330.6" y1="599.8" x2="334.1" y2="599.8" stroke="#000" stroke-width="1.2"/>
<line x1="346.6" y1="593.4" x2="346.6" y2="601.6" stroke="#000" stroke-width="1.2"/>
<line x1="344.9" y1="593.4" x2="348.4" y2="593.4" stroke="#000" stroke-width="1.2"/>
<line x1="344.9" y1="601.6" x2="348.4" y2="601.6" stroke="#000" stroke-width="1.2"/>
<line x1="361.4" y1="590.8" x2="361.4" y2="599.1" stroke="#000" stroke-width="1.2"/>
<line x1="359.6" y1="590.8" x2="363.1" y2="590.8" stroke="#000" stroke-width="1.2"/>
<line x1="359.6" y1="599.1" x2="363.1" y2="599.1" stroke="#000" stroke-width="1.2"/>
<line x1="375.7" y1="520.0" x2="375.7" y2="528.2" stroke="#000" stroke-width="1.2"/>
<line x1="373.9" y1="520.0" x2="377.4" y2="520.0" stroke="#000" stroke-width="1.2"/>
<line x1="373.9" y1="528.2" x2="377.4" y2="528.2" stroke="#000" stroke-width="1.2"/>
<line x1="303.8" y1="593.1" x2="303.8" y2="599.3" stroke="#000" stroke-width="1.2"/>
<line x1="302.1" y1="593.1" x2="305.6" y2="593.1" stroke="#000" stroke-width="1.2"/>
<line x1="302.1" y1="599.3" x2="305.6" y2="599.3" stroke="#000" stroke-width="1.2"/>
<line x1="318.1" y1="595.7" x2="318.1" y2="601.8" stroke="#000" stroke-width="1.2"/>
<line x1="316.4" y1="595.7" x2="319.9" y2="595.7" stroke="#000" stroke-width="1.2"/>
<line x1="316.4" y1="601.8" x2="319.9" y2="601.8" stroke="#000" stroke-width="1.2"/>
<line x1="332.4" y1="593.1" x2="332.4" y2="599.3" stroke="#000" stroke-width="1.2"/>
<line x1="330.6" y1="593.1" x2="334.1" y2="593.1" stroke="#000" stroke-width="1.2"/>
<line x1="330.6" y1="599.3" x2="334.1" y2="599.3" stroke="#000" stroke-width="1.2"/>
<line x1="346.6" y1="595.7" x2="346.6" y2="601.8" stroke="#000" stroke-width="1.2"/>
<line x1="344.9" y1="595.7" x2="348.4" y2="595.7" stroke="#000" stroke-width="1.2"/>
<line x1="344.9" y1="601.8" x2="348.4" y2="601.8" stroke="#000" stroke-width="1.2"/>
<line x1="361.4" y1="592.6" x2="361.4" y2="598.8" stroke="#000" stroke-width="1.2"/>
<line x1="359.6" y1="592.6" x2="363.1" y2="592.6" stroke="#000" stroke-width="1.2"/>
<line x1="359.6" y1="598.8" x2="363.1" y2="598.8" stroke="#000" stroke-width="1.2"/>
<line x1="375.7" y1="515.8" x2="375.7" y2="522.0" stroke="#000" stroke-width="1.2"/>
<line x1="373.9" y1="515.8" x2="377.4" y2="515.8" stroke="#000" stroke-width="1.2"/>
<line x1="373.9" y1="522.0" x2="377.4" y2="522.0" stroke="#000" stroke-width="1.2"/>
<polyline points="303.8,596.2 318.1,598.8 332.4,596.2 346.6,598.8 361.4,595.7 375.7,518.9" fill="none" stroke="#000" stroke-width="2.6" stroke-linejoin="round"/>
<polyline points="303.8,595.3 318.1,598.2 332.4,595.7 346.6,597.5 361.4,594.9 375.7,524.1" fill="none" stroke="#000" stroke-width="2.6" stroke-linejoin="round"/>
<rect x="301.5" y="592.6" width="4.6" height="5.4" fill="#000" stroke="none" stroke-width="0"/>
<rect x="315.8" y="595.5" width="4.6" height="5.4" fill="#000" stroke="none" stroke-width="0"/>
<rect x="330.1" y="593.0" width="4.6" height="5.4" fill="#000" stroke="none" stroke-width="0"/>
<rect x="344.3" y="594.8" width="4.6" height="5.4" fill="#000" stroke="none" stroke-width="0"/>
<rect x="359.1" y="592.2" width="4.6" height="5.4" fill="#000" stroke="none" stroke-width="0"/>
<rect x="373.4" y="521.4" width="4.6" height="5.4" fill="#000" stroke="none" stroke-width="0"/>
<rect x="302.1" y="594.0" width="3.4" height="4.4" fill="#fff" stroke="#000" stroke-width="1.4"/>
<rect x="316.4" y="596.6" width="3.4" height="4.4" fill="#fff" stroke="#000" stroke-width="1.4"/>
<rect x="330.7" y="594.0" width="3.4" height="4.4" fill="#fff" stroke="#000" stroke-width="1.4"/>
<rect x="344.9" y="596.6" width="3.4" height="4.4" fill="#fff" stroke="#000" stroke-width="1.4"/>
<rect x="359.7" y="593.5" width="3.4" height="4.4" fill="#fff" stroke="#000" stroke-width="1.4"/>
<rect x="374.0" y="516.7" width="3.4" height="4.4" fill="#fff" stroke="#000" stroke-width="1.4"/>
<line x1="303.6" y1="534.5" x2="312.5" y2="534.5" stroke="#000" stroke-width="1.8"/>
<rect x="305.7" y="531.8" width="4.4" height="5.4" fill="#000" stroke="none" stroke-width="0"/>
<line x1="303.6" y1="545.6" x2="312.5" y2="545.6" stroke="#000" stroke-width="1.8"/>
<rect x="306.5" y="543.6" width="2.8" height="4.0" fill="#fff" stroke="#000" stroke-width="1.6"/>
<text x="313.8" y="536.1" font-size="8" text-anchor="start" textLength="31.2" lengthAdjust="spacingAndGlyphs">ABT737</text>
<text x="313.8" y="550.1" font-size="8" text-anchor="start" textLength="36.5" lengthAdjust="spacingAndGlyphs">ABT737e</text>
<line x1="422.6" y1="497.0" x2="422.6" y2="620.9" stroke="#000" stroke-width="1.4"/>
<line x1="422.0" y1="620.3" x2="509.6" y2="620.3" stroke="#000" stroke-width="1.4"/>
<line x1="509.1" y1="620.3" x2="509.1" y2="622.1" stroke="#000" stroke-width="1.2"/>
<line x1="420.8" y1="621.0" x2="422.6" y2="621.0" stroke="#000" stroke-width="1.2"/>
<text x="412.4" y="624.1" font-size="8.7" text-anchor="middle" textLength="4.4" lengthAdjust="spacingAndGlyphs">0</text>
<line x1="420.8" y1="600.5" x2="422.6" y2="600.5" stroke="#000" stroke-width="1.2"/>
<text x="412.4" y="603.6" font-size="8.7" text-anchor="middle" textLength="8.9" lengthAdjust="spacingAndGlyphs">20</text>
<line x1="420.8" y1="579.9" x2="422.6" y2="579.9" stroke="#000" stroke-width="1.2"/>
<text x="412.4" y="583.0" font-size="8.7" text-anchor="middle" textLength="8.9" lengthAdjust="spacingAndGlyphs">40</text>
<line x1="420.8" y1="559.4" x2="422.6" y2="559.4" stroke="#000" stroke-width="1.2"/>
<text x="412.4" y="562.5" font-size="8.7" text-anchor="middle" textLength="8.9" lengthAdjust="spacingAndGlyphs">60</text>
<line x1="420.8" y1="538.8" x2="422.6" y2="538.8" stroke="#000" stroke-width="1.2"/>
<text x="412.4" y="541.9" font-size="8.7" text-anchor="middle" textLength="8.9" lengthAdjust="spacingAndGlyphs">80</text>
<line x1="420.8" y1="518.3" x2="422.6" y2="518.3" stroke="#000" stroke-width="1.2"/>
<text x="412.4" y="521.4" font-size="8.7" text-anchor="middle" textLength="13.3" lengthAdjust="spacingAndGlyphs">100</text>
<line x1="420.8" y1="497.8" x2="422.6" y2="497.8" stroke="#000" stroke-width="1.2"/>
<text x="412.4" y="500.9" font-size="8.7" text-anchor="middle" textLength="13.3" lengthAdjust="spacingAndGlyphs">120</text>
<line x1="437.0" y1="620.3" x2="437.0" y2="622.1" stroke="#000" stroke-width="1.0"/>
<line x1="451.6" y1="620.3" x2="451.6" y2="622.1" stroke="#000" stroke-width="1.0"/>
<line x1="466.1" y1="620.3" x2="466.1" y2="622.1" stroke="#000" stroke-width="1.0"/>
<line x1="480.4" y1="620.3" x2="480.4" y2="622.1" stroke="#000" stroke-width="1.0"/>
<line x1="494.6" y1="620.3" x2="494.6" y2="622.1" stroke="#000" stroke-width="1.0"/>
<text x="430.4" y="629.1" font-size="8.7" text-anchor="middle" textLength="4.4" lengthAdjust="spacingAndGlyphs">0</text>
<text x="448.1" y="629.1" font-size="8.7" text-anchor="middle" textLength="11.1" lengthAdjust="spacingAndGlyphs">.01</text>
<text x="459.0" y="629.1" font-size="8.7" text-anchor="middle" textLength="6.7" lengthAdjust="spacingAndGlyphs">.1</text>
<text x="473.3" y="629.1" font-size="8.7" text-anchor="middle" textLength="4.4" lengthAdjust="spacingAndGlyphs">1</text>
<text x="489.6" y="629.1" font-size="8.7" text-anchor="middle" textLength="8.9" lengthAdjust="spacingAndGlyphs">10</text>
<text x="506.8" y="629.1" font-size="8.7" text-anchor="middle" textLength="13.3" lengthAdjust="spacingAndGlyphs">100</text>
<text x="447.0" y="507.9" font-size="8" text-anchor="start" textLength="50.5" lengthAdjust="spacingAndGlyphs">Eμ-myc/Mcl1</text>
<line x1="429.9" y1="604.6" x2="429.9" y2="612.8" stroke="#000" stroke-width="1.2"/>
<line x1="428.1" y1="604.6" x2="431.6" y2="604.6" stroke="#000" stroke-width="1.2"/>
<line x1="428.1" y1="612.8" x2="431.6" y2="612.8" stroke="#000" stroke-width="1.2"/>
<line x1="444.2" y1="607.4" x2="444.2" y2="611.6" stroke="#000" stroke-width="1.2"/>
<line x1="442.4" y1="607.4" x2="445.9" y2="607.4" stroke="#000" stroke-width="1.2"/>
<line x1="442.4" y1="611.6" x2="445.9" y2="611.6" stroke="#000" stroke-width="1.2"/>
<line x1="459.0" y1="608.5" x2="459.0" y2="612.6" stroke="#000" stroke-width="1.2"/>
<line x1="457.2" y1="608.5" x2="460.8" y2="608.5" stroke="#000" stroke-width="1.2"/>
<line x1="457.2" y1="612.6" x2="460.8" y2="612.6" stroke="#000" stroke-width="1.2"/>
<line x1="473.3" y1="608.0" x2="473.3" y2="612.1" stroke="#000" stroke-width="1.2"/>
<line x1="471.6" y1="608.0" x2="475.1" y2="608.0" stroke="#000" stroke-width="1.2"/>
<line x1="471.6" y1="612.1" x2="475.1" y2="612.1" stroke="#000" stroke-width="1.2"/>
<line x1="487.5" y1="597.1" x2="487.5" y2="607.3" stroke="#000" stroke-width="1.2"/>
<line x1="485.8" y1="597.1" x2="489.2" y2="597.1" stroke="#000" stroke-width="1.2"/>
<line x1="485.8" y1="607.3" x2="489.2" y2="607.3" stroke="#000" stroke-width="1.2"/>
<line x1="501.8" y1="526.9" x2="501.8" y2="537.2" stroke="#000" stroke-width="1.2"/>
<line x1="500.1" y1="526.9" x2="503.6" y2="526.9" stroke="#000" stroke-width="1.2"/>
<line x1="500.1" y1="537.2" x2="503.6" y2="537.2" stroke="#000" stroke-width="1.2"/>
<line x1="429.9" y1="607.4" x2="429.9" y2="613.6" stroke="#000" stroke-width="1.2"/>
<line x1="428.1" y1="607.4" x2="431.6" y2="607.4" stroke="#000" stroke-width="1.2"/>
<line x1="428.1" y1="613.6" x2="431.6" y2="613.6" stroke="#000" stroke-width="1.2"/>
<line x1="444.2" y1="608.5" x2="444.2" y2="612.6" stroke="#000" stroke-width="1.2"/>
<line x1="442.4" y1="608.5" x2="445.9" y2="608.5" stroke="#000" stroke-width="1.2"/>
<line x1="442.4" y1="612.6" x2="445.9" y2="612.6" stroke="#000" stroke-width="1.2"/>
<line x1="459.0" y1="609.2" x2="459.0" y2="613.3" stroke="#000" stroke-width="1.2"/>
<line x1="457.2" y1="609.2" x2="460.8" y2="609.2" stroke="#000" stroke-width="1.2"/>
<line x1="457.2" y1="613.3" x2="460.8" y2="613.3" stroke="#000" stroke-width="1.2"/>
<line x1="473.3" y1="608.5" x2="473.3" y2="612.6" stroke="#000" stroke-width="1.2"/>
<line x1="471.6" y1="608.5" x2="475.1" y2="608.5" stroke="#000" stroke-width="1.2"/>
<line x1="471.6" y1="612.6" x2="475.1" y2="612.6" stroke="#000" stroke-width="1.2"/>
<line x1="487.5" y1="605.6" x2="487.5" y2="611.8" stroke="#000" stroke-width="1.2"/>
<line x1="485.8" y1="605.6" x2="489.2" y2="605.6" stroke="#000" stroke-width="1.2"/>
<line x1="485.8" y1="611.8" x2="489.2" y2="611.8" stroke="#000" stroke-width="1.2"/>
<line x1="501.8" y1="532.7" x2="501.8" y2="545.0" stroke="#000" stroke-width="1.2"/>
<line x1="500.1" y1="532.7" x2="503.6" y2="532.7" stroke="#000" stroke-width="1.2"/>
<line x1="500.1" y1="545.0" x2="503.6" y2="545.0" stroke="#000" stroke-width="1.2"/>
<polyline points="429.9,610.5 444.2,610.5 459.0,611.2 473.3,610.5 487.5,608.7 501.8,538.8" fill="none" stroke="#000" stroke-width="2.6" stroke-linejoin="round"/>
<polyline points="429.9,608.7 444.2,609.5 459.0,610.5 473.3,610.0 487.5,602.2 501.8,532.1" fill="none" stroke="#000" stroke-width="2.6" stroke-linejoin="round"/>
<rect x="427.6" y="606.0" width="4.6" height="5.4" fill="#000" stroke="none" stroke-width="0"/>
<rect x="441.9" y="606.8" width="4.6" height="5.4" fill="#000" stroke="none" stroke-width="0"/>
<rect x="456.7" y="607.8" width="4.6" height="5.4" fill="#000" stroke="none" stroke-width="0"/>
<rect x="471.0" y="607.3" width="4.6" height="5.4" fill="#000" stroke="none" stroke-width="0"/>
<rect x="485.2" y="599.5" width="4.6" height="5.4" fill="#000" stroke="none" stroke-width="0"/>
<rect x="499.5" y="529.4" width="4.6" height="5.4" fill="#000" stroke="none" stroke-width="0"/>
<rect x="428.2" y="608.3" width="3.4" height="4.4" fill="#fff" stroke="#000" stroke-width="1.4"/>
<rect x="442.5" y="608.3" width="3.4" height="4.4" fill="#fff" stroke="#000" stroke-width="1.4"/>
<rect x="457.3" y="609.0" width="3.4" height="4.4" fill="#fff" stroke="#000" stroke-width="1.4"/>
<rect x="471.6" y="608.3" width="3.4" height="4.4" fill="#fff" stroke="#000" stroke-width="1.4"/>
<rect x="485.8" y="606.5" width="3.4" height="4.4" fill="#fff" stroke="#000" stroke-width="1.4"/>
<rect x="500.1" y="536.6" width="3.4" height="4.4" fill="#fff" stroke="#000" stroke-width="1.4"/>
<line x1="431.3" y1="539.7" x2="440.2" y2="539.7" stroke="#000" stroke-width="1.8"/>
<rect x="433.4" y="537.0" width="4.4" height="5.4" fill="#000" stroke="none" stroke-width="0"/>
<line x1="431.3" y1="551.7" x2="440.2" y2="551.7" stroke="#000" stroke-width="1.8"/>
<rect x="434.2" y="549.7" width="2.8" height="4.0" fill="#fff" stroke="#000" stroke-width="1.6"/>
<text x="441.9" y="541.4" font-size="8" text-anchor="start" textLength="31.2" lengthAdjust="spacingAndGlyphs">ABT737</text>
<text x="441.9" y="555.9" font-size="8" text-anchor="start" textLength="36.5" lengthAdjust="spacingAndGlyphs">ABT737e</text>
<line x1="296.5" y1="640.9" x2="296.5" y2="771.8" stroke="#000" stroke-width="1.4"/>
<line x1="295.9" y1="771.2" x2="390.4" y2="771.2" stroke="#000" stroke-width="1.4"/>
<line x1="389.9" y1="771.2" x2="389.9" y2="773.0" stroke="#000" stroke-width="1.2"/>
<line x1="294.7" y1="771.5" x2="296.5" y2="771.5" stroke="#000" stroke-width="1.2"/>
<text x="286.3" y="774.6" font-size="8.7" text-anchor="middle" textLength="4.4" lengthAdjust="spacingAndGlyphs">0</text>
<line x1="294.7" y1="749.9" x2="296.5" y2="749.9" stroke="#000" stroke-width="1.2"/>
<text x="286.3" y="753.0" font-size="8.7" text-anchor="middle" textLength="8.9" lengthAdjust="spacingAndGlyphs">20</text>
<line x1="294.7" y1="728.3" x2="296.5" y2="728.3" stroke="#000" stroke-width="1.2"/>
<text x="286.3" y="731.4" font-size="8.7" text-anchor="middle" textLength="8.9" lengthAdjust="spacingAndGlyphs">40</text>
<line x1="294.7" y1="706.7" x2="296.5" y2="706.7" stroke="#000" stroke-width="1.2"/>
<text x="286.3" y="709.8" font-size="8.7" text-anchor="middle" textLength="8.9" lengthAdjust="spacingAndGlyphs">60</text>
<line x1="294.7" y1="685.1" x2="296.5" y2="685.1" stroke="#000" stroke-width="1.2"/>
<text x="286.3" y="688.2" font-size="8.7" text-anchor="middle" textLength="8.9" lengthAdjust="spacingAndGlyphs">80</text>
<line x1="294.7" y1="663.5" x2="296.5" y2="663.5" stroke="#000" stroke-width="1.2"/>
<text x="286.3" y="666.6" font-size="8.7" text-anchor="middle" textLength="13.3" lengthAdjust="spacingAndGlyphs">100</text>
<line x1="294.7" y1="641.9" x2="296.5" y2="641.9" stroke="#000" stroke-width="1.2"/>
<text x="286.3" y="645.0" font-size="8.7" text-anchor="middle" textLength="13.3" lengthAdjust="spacingAndGlyphs">120</text>
<line x1="312.7" y1="771.2" x2="312.7" y2="773.0" stroke="#000" stroke-width="1.0"/>
<line x1="328.1" y1="771.2" x2="328.1" y2="773.0" stroke="#000" stroke-width="1.0"/>
<line x1="343.5" y1="771.2" x2="343.5" y2="773.0" stroke="#000" stroke-width="1.0"/>
<line x1="359.2" y1="771.2" x2="359.2" y2="773.0" stroke="#000" stroke-width="1.0"/>
<line x1="374.8" y1="771.2" x2="374.8" y2="773.0" stroke="#000" stroke-width="1.0"/>
<text x="305.9" y="780.5" font-size="8.7" text-anchor="middle" textLength="4.4" lengthAdjust="spacingAndGlyphs">0</text>
<text x="323.8" y="780.5" font-size="8.7" text-anchor="middle" textLength="11.1" lengthAdjust="spacingAndGlyphs">.01</text>
<text x="338.2" y="780.5" font-size="8.7" text-anchor="middle" textLength="6.7" lengthAdjust="spacingAndGlyphs">.1</text>
<text x="351.3" y="780.5" font-size="8.7" text-anchor="middle" textLength="4.4" lengthAdjust="spacingAndGlyphs">1</text>
<text x="369.6" y="780.5" font-size="8.7" text-anchor="middle" textLength="8.9" lengthAdjust="spacingAndGlyphs">10</text>
<text x="387.0" y="780.5" font-size="8.7" text-anchor="middle" textLength="13.3" lengthAdjust="spacingAndGlyphs">100</text>
<text x="319.2" y="650.3" font-size="8" text-anchor="start" textLength="42.9" lengthAdjust="spacingAndGlyphs">Eμ-myc/A1</text>
<line x1="304.8" y1="738.0" x2="304.8" y2="753.1" stroke="#000" stroke-width="1.2"/>
<line x1="303.1" y1="738.0" x2="306.6" y2="738.0" stroke="#000" stroke-width="1.2"/>
<line x1="303.1" y1="753.1" x2="306.6" y2="753.1" stroke="#000" stroke-width="1.2"/>
<line x1="320.6" y1="738.0" x2="320.6" y2="753.1" stroke="#000" stroke-width="1.2"/>
<line x1="318.9" y1="738.0" x2="322.4" y2="738.0" stroke="#000" stroke-width="1.2"/>
<line x1="318.9" y1="753.1" x2="322.4" y2="753.1" stroke="#000" stroke-width="1.2"/>
<line x1="335.6" y1="737.3" x2="335.6" y2="752.4" stroke="#000" stroke-width="1.2"/>
<line x1="333.9" y1="737.3" x2="337.4" y2="737.3" stroke="#000" stroke-width="1.2"/>
<line x1="333.9" y1="752.4" x2="337.4" y2="752.4" stroke="#000" stroke-width="1.2"/>
<line x1="351.3" y1="736.7" x2="351.3" y2="751.8" stroke="#000" stroke-width="1.2"/>
<line x1="349.6" y1="736.7" x2="353.1" y2="736.7" stroke="#000" stroke-width="1.2"/>
<line x1="349.6" y1="751.8" x2="353.1" y2="751.8" stroke="#000" stroke-width="1.2"/>
<line x1="367.2" y1="715.8" x2="367.2" y2="735.2" stroke="#000" stroke-width="1.2"/>
<line x1="365.4" y1="715.8" x2="368.9" y2="715.8" stroke="#000" stroke-width="1.2"/>
<line x1="365.4" y1="735.2" x2="368.9" y2="735.2" stroke="#000" stroke-width="1.2"/>
<line x1="382.4" y1="663.1" x2="382.4" y2="669.5" stroke="#000" stroke-width="1.2"/>
<line x1="380.6" y1="663.1" x2="384.1" y2="663.1" stroke="#000" stroke-width="1.2"/>
<line x1="380.6" y1="669.5" x2="384.1" y2="669.5" stroke="#000" stroke-width="1.2"/>
<line x1="304.8" y1="739.2" x2="304.8" y2="754.3" stroke="#000" stroke-width="1.2"/>
<line x1="303.1" y1="739.2" x2="306.6" y2="739.2" stroke="#000" stroke-width="1.2"/>
<line x1="303.1" y1="754.3" x2="306.6" y2="754.3" stroke="#000" stroke-width="1.2"/>
<line x1="320.6" y1="739.6" x2="320.6" y2="754.8" stroke="#000" stroke-width="1.2"/>
<line x1="318.9" y1="739.6" x2="322.4" y2="739.6" stroke="#000" stroke-width="1.2"/>
<line x1="318.9" y1="754.8" x2="322.4" y2="754.8" stroke="#000" stroke-width="1.2"/>
<line x1="335.6" y1="737.3" x2="335.6" y2="752.4" stroke="#000" stroke-width="1.2"/>
<line x1="333.9" y1="737.3" x2="337.4" y2="737.3" stroke="#000" stroke-width="1.2"/>
<line x1="333.9" y1="752.4" x2="337.4" y2="752.4" stroke="#000" stroke-width="1.2"/>
<line x1="351.3" y1="736.7" x2="351.3" y2="751.8" stroke="#000" stroke-width="1.2"/>
<line x1="349.6" y1="736.7" x2="353.1" y2="736.7" stroke="#000" stroke-width="1.2"/>
<line x1="349.6" y1="751.8" x2="353.1" y2="751.8" stroke="#000" stroke-width="1.2"/>
<line x1="367.2" y1="736.6" x2="367.2" y2="751.7" stroke="#000" stroke-width="1.2"/>
<line x1="365.4" y1="736.6" x2="368.9" y2="736.6" stroke="#000" stroke-width="1.2"/>
<line x1="365.4" y1="751.7" x2="368.9" y2="751.7" stroke="#000" stroke-width="1.2"/>
<line x1="382.4" y1="663.1" x2="382.4" y2="669.5" stroke="#000" stroke-width="1.2"/>
<line x1="380.6" y1="663.1" x2="384.1" y2="663.1" stroke="#000" stroke-width="1.2"/>
<line x1="380.6" y1="669.5" x2="384.1" y2="669.5" stroke="#000" stroke-width="1.2"/>
<polyline points="304.8,746.8 320.6,747.2 335.6,744.8 351.3,744.3 367.2,744.2 382.4,666.3" fill="none" stroke="#000" stroke-width="2.6" stroke-linejoin="round"/>
<polyline points="304.8,745.6 320.6,745.6 335.6,744.8 351.3,744.3 367.2,725.5 382.4,666.3" fill="none" stroke="#000" stroke-width="2.6" stroke-linejoin="round"/>
<rect x="302.5" y="742.9" width="4.6" height="5.4" fill="#000" stroke="none" stroke-width="0"/>
<rect x="318.3" y="742.9" width="4.6" height="5.4" fill="#000" stroke="none" stroke-width="0"/>
<rect x="333.3" y="742.1" width="4.6" height="5.4" fill="#000" stroke="none" stroke-width="0"/>
<rect x="349.0" y="741.6" width="4.6" height="5.4" fill="#000" stroke="none" stroke-width="0"/>
<rect x="364.9" y="722.8" width="4.6" height="5.4" fill="#000" stroke="none" stroke-width="0"/>
<rect x="380.1" y="663.6" width="4.6" height="5.4" fill="#000" stroke="none" stroke-width="0"/>
<rect x="303.1" y="744.6" width="3.4" height="4.4" fill="#fff" stroke="#000" stroke-width="1.4"/>
<rect x="318.9" y="745.0" width="3.4" height="4.4" fill="#fff" stroke="#000" stroke-width="1.4"/>
<rect x="333.9" y="742.6" width="3.4" height="4.4" fill="#fff" stroke="#000" stroke-width="1.4"/>
<rect x="349.6" y="742.1" width="3.4" height="4.4" fill="#fff" stroke="#000" stroke-width="1.4"/>
<rect x="365.5" y="742.0" width="3.4" height="4.4" fill="#fff" stroke="#000" stroke-width="1.4"/>
<rect x="380.7" y="664.1" width="3.4" height="4.4" fill="#fff" stroke="#000" stroke-width="1.4"/>
<rect x="380.0" y="662.3" width="4.8" height="8.0" fill="#000" stroke="none" stroke-width="0"/>
<line x1="304.4" y1="676.1" x2="313.3" y2="676.1" stroke="#000" stroke-width="1.8"/>
<rect x="306.5" y="673.4" width="4.4" height="5.4" fill="#000" stroke="none" stroke-width="0"/>
<line x1="304.4" y1="687.4" x2="313.3" y2="687.4" stroke="#000" stroke-width="1.8"/>
<rect x="307.3" y="685.4" width="2.8" height="4.0" fill="#fff" stroke="#000" stroke-width="1.6"/>
<text x="314.8" y="678.2" font-size="8" text-anchor="start" textLength="31.2" lengthAdjust="spacingAndGlyphs">ABT737</text>
<text x="314.8" y="691.5" font-size="8" text-anchor="start" textLength="36.5" lengthAdjust="spacingAndGlyphs">ABT737e</text>
<line x1="424.5" y1="649.5" x2="424.5" y2="772.1" stroke="#000" stroke-width="1.4"/>
<line x1="423.9" y1="771.5" x2="516.2" y2="771.5" stroke="#000" stroke-width="1.4"/>
<line x1="515.7" y1="771.5" x2="515.7" y2="773.3" stroke="#000" stroke-width="1.2"/>
<line x1="422.7" y1="771.5" x2="424.5" y2="771.5" stroke="#000" stroke-width="1.2"/>
<text x="414.3" y="774.6" font-size="8.7" text-anchor="middle" textLength="4.4" lengthAdjust="spacingAndGlyphs">0</text>
<line x1="422.7" y1="751.3" x2="424.5" y2="751.3" stroke="#000" stroke-width="1.2"/>
<text x="414.3" y="754.4" font-size="8.7" text-anchor="middle" textLength="8.9" lengthAdjust="spacingAndGlyphs">20</text>
<line x1="422.7" y1="731.1" x2="424.5" y2="731.1" stroke="#000" stroke-width="1.2"/>
<text x="414.3" y="734.2" font-size="8.7" text-anchor="middle" textLength="8.9" lengthAdjust="spacingAndGlyphs">40</text>
<line x1="422.7" y1="710.9" x2="424.5" y2="710.9" stroke="#000" stroke-width="1.2"/>
<text x="414.3" y="714.0" font-size="8.7" text-anchor="middle" textLength="8.9" lengthAdjust="spacingAndGlyphs">60</text>
<line x1="422.7" y1="690.7" x2="424.5" y2="690.7" stroke="#000" stroke-width="1.2"/>
<text x="414.3" y="693.8" font-size="8.7" text-anchor="middle" textLength="8.9" lengthAdjust="spacingAndGlyphs">80</text>
<line x1="422.7" y1="670.5" x2="424.5" y2="670.5" stroke="#000" stroke-width="1.2"/>
<text x="414.3" y="673.6" font-size="8.7" text-anchor="middle" textLength="13.3" lengthAdjust="spacingAndGlyphs">100</text>
<line x1="422.7" y1="650.3" x2="424.5" y2="650.3" stroke="#000" stroke-width="1.2"/>
<text x="414.3" y="653.4" font-size="8.7" text-anchor="middle" textLength="13.3" lengthAdjust="spacingAndGlyphs">120</text>
<line x1="439.8" y1="771.5" x2="439.8" y2="773.3" stroke="#000" stroke-width="1.0"/>
<line x1="454.9" y1="771.5" x2="454.9" y2="773.3" stroke="#000" stroke-width="1.0"/>
<line x1="470.0" y1="771.5" x2="470.0" y2="773.3" stroke="#000" stroke-width="1.0"/>
<line x1="485.2" y1="771.5" x2="485.2" y2="773.3" stroke="#000" stroke-width="1.0"/>
<line x1="500.5" y1="771.5" x2="500.5" y2="773.3" stroke="#000" stroke-width="1.0"/>
<text x="433.3" y="781.2" font-size="8.7" text-anchor="middle" textLength="4.4" lengthAdjust="spacingAndGlyphs">0</text>
<text x="452.3" y="781.2" font-size="8.7" text-anchor="middle" textLength="11.1" lengthAdjust="spacingAndGlyphs">.01</text>
<text x="464.0" y="781.2" font-size="8.7" text-anchor="middle" textLength="6.7" lengthAdjust="spacingAndGlyphs">.1</text>
<text x="478.1" y="781.2" font-size="8.7" text-anchor="middle" textLength="4.4" lengthAdjust="spacingAndGlyphs">1</text>
<text x="495.4" y="781.2" font-size="8.7" text-anchor="middle" textLength="8.9" lengthAdjust="spacingAndGlyphs">10</text>
<text x="513.3" y="781.2" font-size="8.7" text-anchor="middle" textLength="13.3" lengthAdjust="spacingAndGlyphs">100</text>
<text x="452.5" y="658.8" font-size="8" text-anchor="start" textLength="42.9" lengthAdjust="spacingAndGlyphs">Eμ-myc/A1</text>
<line x1="432.2" y1="735.1" x2="432.2" y2="749.3" stroke="#000" stroke-width="1.2"/>
<line x1="430.4" y1="735.1" x2="433.9" y2="735.1" stroke="#000" stroke-width="1.2"/>
<line x1="430.4" y1="749.3" x2="433.9" y2="749.3" stroke="#000" stroke-width="1.2"/>
<line x1="447.3" y1="739.2" x2="447.3" y2="749.3" stroke="#000" stroke-width="1.2"/>
<line x1="445.6" y1="739.2" x2="449.1" y2="739.2" stroke="#000" stroke-width="1.2"/>
<line x1="445.6" y1="749.3" x2="449.1" y2="749.3" stroke="#000" stroke-width="1.2"/>
<line x1="462.4" y1="736.9" x2="462.4" y2="749.0" stroke="#000" stroke-width="1.2"/>
<line x1="460.6" y1="736.9" x2="464.1" y2="736.9" stroke="#000" stroke-width="1.2"/>
<line x1="460.6" y1="749.0" x2="464.1" y2="749.0" stroke="#000" stroke-width="1.2"/>
<line x1="477.7" y1="738.2" x2="477.7" y2="746.2" stroke="#000" stroke-width="1.2"/>
<line x1="475.9" y1="738.2" x2="479.4" y2="738.2" stroke="#000" stroke-width="1.2"/>
<line x1="475.9" y1="746.2" x2="479.4" y2="746.2" stroke="#000" stroke-width="1.2"/>
<line x1="492.7" y1="704.8" x2="492.7" y2="719.0" stroke="#000" stroke-width="1.2"/>
<line x1="490.9" y1="704.8" x2="494.4" y2="704.8" stroke="#000" stroke-width="1.2"/>
<line x1="490.9" y1="719.0" x2="494.4" y2="719.0" stroke="#000" stroke-width="1.2"/>
<line x1="508.3" y1="669.0" x2="508.3" y2="673.0" stroke="#000" stroke-width="1.2"/>
<line x1="506.6" y1="669.0" x2="510.1" y2="669.0" stroke="#000" stroke-width="1.2"/>
<line x1="506.6" y1="673.0" x2="510.1" y2="673.0" stroke="#000" stroke-width="1.2"/>
<line x1="432.2" y1="735.8" x2="432.2" y2="750.0" stroke="#000" stroke-width="1.2"/>
<line x1="430.4" y1="735.8" x2="433.9" y2="735.8" stroke="#000" stroke-width="1.2"/>
<line x1="430.4" y1="750.0" x2="433.9" y2="750.0" stroke="#000" stroke-width="1.2"/>
<line x1="447.3" y1="740.2" x2="447.3" y2="752.3" stroke="#000" stroke-width="1.2"/>
<line x1="445.6" y1="740.2" x2="449.1" y2="740.2" stroke="#000" stroke-width="1.2"/>
<line x1="445.6" y1="752.3" x2="449.1" y2="752.3" stroke="#000" stroke-width="1.2"/>
<line x1="462.4" y1="737.4" x2="462.4" y2="749.5" stroke="#000" stroke-width="1.2"/>
<line x1="460.6" y1="737.4" x2="464.1" y2="737.4" stroke="#000" stroke-width="1.2"/>
<line x1="460.6" y1="749.5" x2="464.1" y2="749.5" stroke="#000" stroke-width="1.2"/>
<line x1="477.7" y1="740.5" x2="477.7" y2="750.6" stroke="#000" stroke-width="1.2"/>
<line x1="475.9" y1="740.5" x2="479.4" y2="740.5" stroke="#000" stroke-width="1.2"/>
<line x1="475.9" y1="750.6" x2="479.4" y2="750.6" stroke="#000" stroke-width="1.2"/>
<line x1="492.7" y1="728.1" x2="492.7" y2="742.2" stroke="#000" stroke-width="1.2"/>
<line x1="490.9" y1="728.1" x2="494.4" y2="728.1" stroke="#000" stroke-width="1.2"/>
<line x1="490.9" y1="742.2" x2="494.4" y2="742.2" stroke="#000" stroke-width="1.2"/>
<line x1="508.3" y1="669.0" x2="508.3" y2="673.0" stroke="#000" stroke-width="1.2"/>
<line x1="506.6" y1="669.0" x2="510.1" y2="669.0" stroke="#000" stroke-width="1.2"/>
<line x1="506.6" y1="673.0" x2="510.1" y2="673.0" stroke="#000" stroke-width="1.2"/>
<polyline points="432.2,742.9 447.3,746.2 462.4,743.4 477.7,745.5 492.7,735.1 508.3,671.0" fill="none" stroke="#000" stroke-width="2.6" stroke-linejoin="round"/>
<polyline points="432.2,742.2 447.3,744.2 462.4,742.9 477.7,742.2 492.7,711.9 508.3,671.0" fill="none" stroke="#000" stroke-width="2.6" stroke-linejoin="round"/>
<rect x="429.9" y="739.5" width="4.6" height="5.4" fill="#000" stroke="none" stroke-width="0"/>
<rect x="445.0" y="741.5" width="4.6" height="5.4" fill="#000" stroke="none" stroke-width="0"/>
<rect x="460.1" y="740.2" width="4.6" height="5.4" fill="#000" stroke="none" stroke-width="0"/>
<rect x="475.4" y="739.5" width="4.6" height="5.4" fill="#000" stroke="none" stroke-width="0"/>
<rect x="490.4" y="709.2" width="4.6" height="5.4" fill="#000" stroke="none" stroke-width="0"/>
<rect x="506.0" y="668.3" width="4.6" height="5.4" fill="#000" stroke="none" stroke-width="0"/>
<rect x="430.5" y="740.7" width="3.4" height="4.4" fill="#fff" stroke="#000" stroke-width="1.4"/>
<rect x="445.6" y="744.0" width="3.4" height="4.4" fill="#fff" stroke="#000" stroke-width="1.4"/>
<rect x="460.7" y="741.2" width="3.4" height="4.4" fill="#fff" stroke="#000" stroke-width="1.4"/>
<rect x="476.0" y="743.3" width="3.4" height="4.4" fill="#fff" stroke="#000" stroke-width="1.4"/>
<rect x="491.0" y="732.9" width="3.4" height="4.4" fill="#fff" stroke="#000" stroke-width="1.4"/>
<rect x="506.6" y="668.8" width="3.4" height="4.4" fill="#fff" stroke="#000" stroke-width="1.4"/>
<line x1="437.4" y1="684.9" x2="446.3" y2="684.9" stroke="#000" stroke-width="1.8"/>
<rect x="439.5" y="682.2" width="4.4" height="5.4" fill="#000" stroke="none" stroke-width="0"/>
<line x1="437.4" y1="696.6" x2="446.3" y2="696.6" stroke="#000" stroke-width="1.8"/>
<rect x="440.3" y="694.6" width="2.8" height="4.0" fill="#fff" stroke="#000" stroke-width="1.6"/>
<text x="447.9" y="686.5" font-size="8" text-anchor="start" textLength="30.7" lengthAdjust="spacingAndGlyphs">ABT737</text>
<text x="447.9" y="700.8" font-size="8" text-anchor="start" textLength="36.0" lengthAdjust="spacingAndGlyphs">ABT737e</text>
<text transform="translate(274.2,82.6) rotate(-90)" font-size="8" text-anchor="middle" textLength="53.6" lengthAdjust="spacingAndGlyphs">% PI Positive</text>
<text transform="translate(400.2,90.1) rotate(-90)" font-size="8" text-anchor="middle" textLength="36.8" lengthAdjust="spacingAndGlyphs">% MOMP</text>
<text x="313.7" y="173.5" font-size="8" text-anchor="start" textLength="77.5" lengthAdjust="spacingAndGlyphs">Concentration (μM)</text>
<text x="438.3" y="177.8" font-size="8" text-anchor="start" textLength="78.2" lengthAdjust="spacingAndGlyphs">Concentration (μM)</text>
</svg>
</body></html>
